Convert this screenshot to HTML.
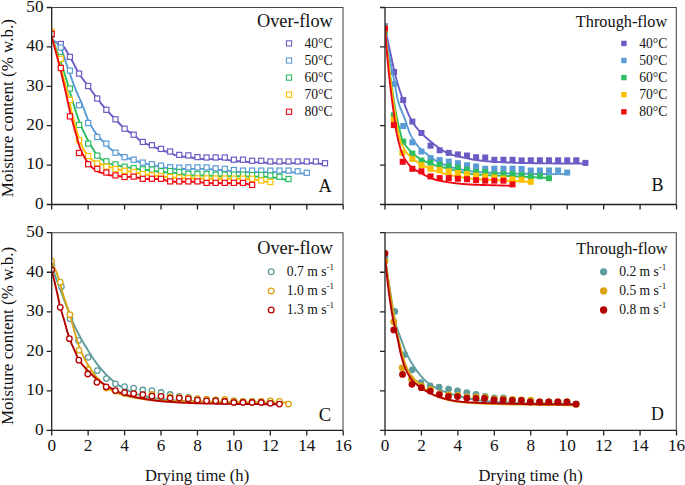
<!DOCTYPE html>
<html><head><meta charset="utf-8"><style>
html,body{margin:0;padding:0;background:#fff;}
body{width:685px;height:485px;overflow:hidden;font-family:"Liberation Serif",serif;}
svg{display:block;}
text{fill:#111;}
</style></head><body>
<svg width="685" height="485" viewBox="0 0 685 485" font-family="Liberation Serif, serif">
<rect width="685" height="485" fill="#fff"/>
<defs>
<clipPath id="clipA"><rect x="51.7" y="0" width="296.3" height="205.5"/></clipPath>
<clipPath id="clipB"><rect x="385" y="0" width="296.3" height="205.5"/></clipPath>
<clipPath id="clipC"><rect x="51.7" y="0" width="296.3" height="431.4"/></clipPath>
<clipPath id="clipD"><rect x="385" y="0" width="296.3" height="431.4"/></clipPath>
</defs>
<g clip-path="url(#clipA)">
<path d="M51.7 41.7 L52.61 41.73 L53.53 41.82 L54.44 41.96 L55.36 42.14 L56.27 42.37 L57.18 42.64 L58.1 42.94 L59.01 43.27 L59.93 43.63 L60.84 44.03 L61.75 44.6 L62.67 45.44 L63.58 46.51 L64.5 47.79 L65.41 49.2 L66.32 50.73 L67.24 52.31 L68.15 53.91 L69.07 55.48 L69.98 57 L70.89 58.55 L71.81 60.18 L72.72 61.89 L73.64 63.65 L74.55 65.44 L75.47 67.22 L76.38 68.96 L77.29 70.64 L78.21 72.24 L79.12 73.72 L80.04 75.11 L80.95 76.44 L81.86 77.71 L82.78 78.95 L83.69 80.16 L84.61 81.35 L85.52 82.54 L86.43 83.73 L87.35 84.94 L88.26 86.17 L89.18 87.43 L90.09 88.69 L91 89.97 L91.92 91.24 L92.83 92.51 L93.75 93.78 L94.66 95.03 L95.57 96.27 L96.49 97.49 L97.4 98.69 L98.32 99.88 L99.23 101.06 L100.14 102.24 L101.06 103.4 L101.97 104.55 L102.89 105.68 L103.8 106.79 L104.71 107.88 L105.63 108.95 L106.54 109.99 L107.46 111.01 L108.37 112 L109.28 112.97 L110.2 113.92 L111.11 114.86 L112.03 115.79 L112.94 116.72 L113.86 117.65 L114.77 118.59 L115.68 119.54 L116.6 120.51 L117.51 121.5 L118.43 122.5 L119.34 123.51 L120.25 124.5 L121.17 125.46 L122.08 126.39 L123 127.27 L123.91 128.09 L124.82 128.85 L125.74 129.58 L126.65 130.25 L127.57 130.89 L128.48 131.5 L129.39 132.09 L130.31 132.68 L131.22 133.28 L132.14 133.89 L133.05 134.54 L133.96 135.23 L134.88 135.96 L135.79 136.74 L136.71 137.55 L137.62 138.37 L138.53 139.19 L139.45 139.97 L140.36 140.71 L141.28 141.39 L142.19 141.99 L143.1 142.52 L144.02 142.98 L144.93 143.39 L145.85 143.76 L146.76 144.11 L147.67 144.45 L148.59 144.78 L149.5 145.11 L150.42 145.44 L151.33 145.8 L152.25 146.17 L153.16 146.55 L154.07 146.95 L154.99 147.36 L155.9 147.78 L156.82 148.19 L157.73 148.6 L158.64 148.99 L159.56 149.37 L160.47 149.73 L161.39 150.06 L162.3 150.38 L163.21 150.68 L164.13 150.97 L165.04 151.25 L165.96 151.53 L166.87 151.8 L167.78 152.09 L168.7 152.38 L169.61 152.7 L170.53 153.05 L171.44 153.42 L172.35 153.82 L173.27 154.24 L174.18 154.66 L175.1 155.07 L176.01 155.45 L176.92 155.79 L177.84 156.07 L178.75 156.3 L179.67 156.46 L180.58 156.56 L181.49 156.64 L182.41 156.69 L183.32 156.74 L184.24 156.78 L185.15 156.82 L186.06 156.87 L186.98 156.94 L187.89 157.02 L188.81 157.12 L189.72 157.25 L190.64 157.4 L191.55 157.58 L192.46 157.77 L193.38 157.96 L194.29 158.15 L195.21 158.32 L196.12 158.47 L197.03 158.59 L197.95 158.69 L198.86 158.77 L199.78 158.84 L200.69 158.9 L201.6 158.94 L202.52 158.99 L203.43 159.02 L204.35 159.05 L205.26 159.07 L206.17 159.08 L207.09 159.09 L208 159.1 L208.92 159.1 L209.83 159.1 L210.74 159.1 L211.66 159.1 L212.57 159.1 L213.49 159.1 L214.4 159.1 L215.31 159.1 L216.23 159.1 L217.14 159.1 L218.06 159.1 L218.97 159.1 L219.88 159.1 L220.8 159.1 L221.71 159.11 L222.63 159.13 L223.54 159.17 L224.45 159.23 L225.37 159.33 L226.28 159.47 L227.2 159.65 L228.11 159.87 L229.03 160.11 L229.94 160.36 L230.85 160.59 L231.77 160.8 L232.68 160.97 L233.6 161.1 L234.51 161.18 L235.42 161.24 L236.34 161.27 L237.25 161.29 L238.17 161.3 L239.08 161.3 L239.99 161.31 L240.91 161.32 L241.82 161.34 L242.74 161.38 L243.65 161.43 L244.56 161.5 L245.48 161.59 L246.39 161.7 L247.31 161.82 L248.22 161.93 L249.13 162.05 L250.05 162.14 L250.96 162.23 L251.88 162.29 L252.79 162.33 L253.7 162.36 L254.62 162.38 L255.53 162.39 L256.45 162.4 L257.36 162.4 L258.27 162.41 L259.19 162.42 L260.1 162.43 L261.02 162.46 L261.93 162.49 L262.84 162.54 L263.76 162.6 L264.67 162.66 L265.59 162.73 L266.5 162.81 L267.42 162.87 L268.33 162.93 L269.24 162.98 L270.16 163.02 L271.07 163.05 L271.99 163.07 L272.9 163.08 L273.81 163.09 L274.73 163.1 L275.64 163.1 L276.56 163.1 L277.47 163.1 L278.38 163.1 L279.3 163.1 L280.21 163.1 L281.13 163.1 L282.04 163.1 L282.95 163.1 L283.87 163.1 L284.78 163.1 L285.7 163.1 L286.61 163.1 L287.52 163.1 L288.44 163.1 L289.35 163.1 L290.27 163.1 L291.18 163.1 L292.09 163.1 L293.01 163.1 L293.92 163.1 L294.84 163.1 L295.75 163.1 L296.66 163.1 L297.58 163.1 L298.49 163.1 L299.41 163.1 L300.32 163.1 L301.23 163.1 L302.15 163.1 L303.06 163.1 L303.98 163.1 L304.89 163.1 L305.81 163.1 L306.72 163.1 L307.63 163.1 L308.55 163.1 L309.46 163.1 L310.38 163.1 L311.29 163.11 L312.2 163.12 L313.12 163.13 L314.03 163.16 L314.95 163.19 L315.86 163.24 L316.77 163.31 L317.69 163.4 L318.6 163.51 L319.52 163.65 L320.43 163.8 L321.34 163.98 L322.26 164.17 L323.17 164.38 L324.09 164.61 L325 164.84" fill="none" stroke="#6A5CC4" stroke-width="1.9" stroke-linejoin="round" stroke-linecap="round"/>
<rect x="49.15" y="31.65" width="5.1" height="5.1" fill="#fff" stroke="#6A5CC4" stroke-width="1.2"/>
<rect x="58.26" y="41.45" width="5.1" height="5.1" fill="#fff" stroke="#6A5CC4" stroke-width="1.2"/>
<rect x="67.37" y="54.35" width="5.1" height="5.1" fill="#fff" stroke="#6A5CC4" stroke-width="1.2"/>
<rect x="76.48" y="71.05" width="5.1" height="5.1" fill="#fff" stroke="#6A5CC4" stroke-width="1.2"/>
<rect x="85.59" y="83.45" width="5.1" height="5.1" fill="#fff" stroke="#6A5CC4" stroke-width="1.2"/>
<rect x="94.7" y="95.95" width="5.1" height="5.1" fill="#fff" stroke="#6A5CC4" stroke-width="1.2"/>
<rect x="103.81" y="107.25" width="5.1" height="5.1" fill="#fff" stroke="#6A5CC4" stroke-width="1.2"/>
<rect x="112.92" y="116.75" width="5.1" height="5.1" fill="#fff" stroke="#6A5CC4" stroke-width="1.2"/>
<rect x="122.03" y="126.15" width="5.1" height="5.1" fill="#fff" stroke="#6A5CC4" stroke-width="1.2"/>
<rect x="131.14" y="132.15" width="5.1" height="5.1" fill="#fff" stroke="#6A5CC4" stroke-width="1.2"/>
<rect x="140.25" y="139.35" width="5.1" height="5.1" fill="#fff" stroke="#6A5CC4" stroke-width="1.2"/>
<rect x="149.36" y="142.65" width="5.1" height="5.1" fill="#fff" stroke="#6A5CC4" stroke-width="1.2"/>
<rect x="158.47" y="146.35" width="5.1" height="5.1" fill="#fff" stroke="#6A5CC4" stroke-width="1.2"/>
<rect x="167.58" y="148.95" width="5.1" height="5.1" fill="#fff" stroke="#6A5CC4" stroke-width="1.2"/>
<rect x="176.69" y="152.35" width="5.1" height="5.1" fill="#fff" stroke="#6A5CC4" stroke-width="1.2"/>
<rect x="185.8" y="152.85" width="5.1" height="5.1" fill="#fff" stroke="#6A5CC4" stroke-width="1.2"/>
<rect x="194.91" y="154.55" width="5.1" height="5.1" fill="#fff" stroke="#6A5CC4" stroke-width="1.2"/>
<rect x="204.02" y="154.95" width="5.1" height="5.1" fill="#fff" stroke="#6A5CC4" stroke-width="1.2"/>
<rect x="213.13" y="154.95" width="5.1" height="5.1" fill="#fff" stroke="#6A5CC4" stroke-width="1.2"/>
<rect x="222.24" y="154.95" width="5.1" height="5.1" fill="#fff" stroke="#6A5CC4" stroke-width="1.2"/>
<rect x="231.35" y="157.15" width="5.1" height="5.1" fill="#fff" stroke="#6A5CC4" stroke-width="1.2"/>
<rect x="240.46" y="157.15" width="5.1" height="5.1" fill="#fff" stroke="#6A5CC4" stroke-width="1.2"/>
<rect x="249.57" y="158.25" width="5.1" height="5.1" fill="#fff" stroke="#6A5CC4" stroke-width="1.2"/>
<rect x="258.68" y="158.25" width="5.1" height="5.1" fill="#fff" stroke="#6A5CC4" stroke-width="1.2"/>
<rect x="267.79" y="158.95" width="5.1" height="5.1" fill="#fff" stroke="#6A5CC4" stroke-width="1.2"/>
<rect x="276.9" y="158.95" width="5.1" height="5.1" fill="#fff" stroke="#6A5CC4" stroke-width="1.2"/>
<rect x="286.01" y="158.95" width="5.1" height="5.1" fill="#fff" stroke="#6A5CC4" stroke-width="1.2"/>
<rect x="295.12" y="158.95" width="5.1" height="5.1" fill="#fff" stroke="#6A5CC4" stroke-width="1.2"/>
<rect x="304.23" y="158.95" width="5.1" height="5.1" fill="#fff" stroke="#6A5CC4" stroke-width="1.2"/>
<rect x="313.34" y="158.95" width="5.1" height="5.1" fill="#fff" stroke="#6A5CC4" stroke-width="1.2"/>
<rect x="322.45" y="160.65" width="5.1" height="5.1" fill="#fff" stroke="#6A5CC4" stroke-width="1.2"/>
<path d="M51.7 40.01 L52.55 40.12 L53.41 40.42 L54.26 40.9 L55.11 41.54 L55.97 42.32 L56.82 43.22 L57.67 44.22 L58.52 45.31 L59.38 46.47 L60.23 47.67 L61.08 48.98 L61.94 50.69 L62.79 52.85 L63.64 55.33 L64.5 57.98 L65.35 60.66 L66.2 63.24 L67.06 65.71 L67.91 68.19 L68.76 70.68 L69.62 73.13 L70.47 75.53 L71.32 77.92 L72.17 80.29 L73.03 82.63 L73.88 84.94 L74.73 87.19 L75.59 89.37 L76.44 91.47 L77.29 93.47 L78.15 95.4 L79 97.28 L79.85 99.15 L80.71 101.05 L81.56 103.01 L82.41 105.08 L83.27 107.26 L84.12 109.53 L84.97 111.84 L85.82 114.14 L86.68 116.39 L87.53 118.53 L88.38 120.51 L89.24 122.33 L90.09 124 L90.94 125.58 L91.8 127.08 L92.65 128.5 L93.5 129.84 L94.36 131.12 L95.21 132.33 L96.06 133.48 L96.91 134.58 L97.77 135.62 L98.62 136.63 L99.47 137.61 L100.33 138.57 L101.18 139.51 L102.03 140.43 L102.89 141.32 L103.74 142.2 L104.59 143.05 L105.45 143.91 L106.3 144.77 L107.15 145.67 L108.01 146.59 L108.86 147.49 L109.71 148.32 L110.56 149.02 L111.42 149.61 L112.27 150.11 L113.12 150.56 L113.98 150.98 L114.83 151.4 L115.68 151.85 L116.54 152.33 L117.39 152.86 L118.24 153.41 L119.1 153.98 L119.95 154.55 L120.8 155.11 L121.66 155.65 L122.51 156.15 L123.36 156.6 L124.21 157 L125.07 157.35 L125.92 157.68 L126.77 157.97 L127.63 158.23 L128.48 158.48 L129.33 158.72 L130.19 158.95 L131.04 159.19 L131.89 159.43 L132.75 159.68 L133.6 159.94 L134.45 160.22 L135.3 160.52 L136.16 160.82 L137.01 161.13 L137.86 161.45 L138.72 161.76 L139.57 162.06 L140.42 162.35 L141.28 162.63 L142.13 162.89 L142.98 163.13 L143.84 163.35 L144.69 163.55 L145.54 163.75 L146.4 163.94 L147.25 164.12 L148.1 164.3 L148.95 164.47 L149.81 164.64 L150.66 164.81 L151.51 164.97 L152.37 165.13 L153.22 165.29 L154.07 165.45 L154.93 165.61 L155.78 165.76 L156.63 165.91 L157.49 166.06 L158.34 166.21 L159.19 166.37 L160.05 166.53 L160.9 166.69 L161.75 166.87 L162.6 167.05 L163.46 167.25 L164.31 167.44 L165.16 167.64 L166.02 167.83 L166.87 168.01 L167.72 168.17 L168.58 168.31 L169.43 168.43 L170.28 168.53 L171.14 168.62 L171.99 168.69 L172.84 168.75 L173.69 168.81 L174.55 168.87 L175.4 168.92 L176.25 168.97 L177.11 169.01 L177.96 169.04 L178.81 169.07 L179.67 169.08 L180.52 169.07 L181.37 169.06 L182.23 169.04 L183.08 169.02 L183.93 169 L184.79 168.97 L185.64 168.95 L186.49 168.93 L187.34 168.92 L188.2 168.91 L189.05 168.91 L189.9 168.9 L190.76 168.9 L191.61 168.9 L192.46 168.9 L193.32 168.9 L194.17 168.9 L195.02 168.9 L195.88 168.9 L196.73 168.9 L197.58 168.9 L198.43 168.9 L199.29 168.9 L200.14 168.9 L200.99 168.9 L201.85 168.9 L202.7 168.9 L203.55 168.9 L204.41 168.91 L205.26 168.92 L206.11 168.93 L206.97 168.96 L207.82 169 L208.67 169.06 L209.53 169.13 L210.38 169.21 L211.23 169.3 L212.08 169.4 L212.94 169.49 L213.79 169.58 L214.64 169.67 L215.5 169.75 L216.35 169.81 L217.2 169.87 L218.06 169.92 L218.91 169.97 L219.76 170.02 L220.62 170.06 L221.47 170.11 L222.32 170.16 L223.18 170.22 L224.03 170.28 L224.88 170.36 L225.73 170.44 L226.59 170.53 L227.44 170.64 L228.29 170.75 L229.15 170.86 L230 170.98 L230.85 171.1 L231.71 171.21 L232.56 171.32 L233.41 171.41 L234.27 171.51 L235.12 171.59 L235.97 171.67 L236.82 171.75 L237.68 171.81 L238.53 171.87 L239.38 171.93 L240.24 171.97 L241.09 172.01 L241.94 172.04 L242.8 172.06 L243.65 172.08 L244.5 172.09 L245.36 172.09 L246.21 172.1 L247.06 172.1 L247.92 172.1 L248.77 172.1 L249.62 172.1 L250.47 172.1 L251.33 172.1 L252.18 172.1 L253.03 172.1 L253.89 172.1 L254.74 172.1 L255.59 172.1 L256.45 172.1 L257.3 172.1 L258.15 172.1 L259.01 172.1 L259.86 172.1 L260.71 172.1 L261.57 172.1 L262.42 172.1 L263.27 172.1 L264.12 172.1 L264.98 172.1 L265.83 172.1 L266.68 172.1 L267.54 172.1 L268.39 172.1 L269.24 172.1 L270.1 172.1 L270.95 172.1 L271.8 172.1 L272.66 172.1 L273.51 172.1 L274.36 172.1 L275.21 172.1 L276.07 172.1 L276.92 172.1 L277.77 172.1 L278.63 172.1 L279.48 172.1 L280.33 172.1 L281.19 172.1 L282.04 172.1 L282.89 172.1 L283.75 172.1 L284.6 172.1 L285.45 172.11 L286.31 172.11 L287.16 172.12 L288.01 172.14 L288.86 172.16 L289.72 172.19 L290.57 172.23 L291.42 172.27 L292.28 172.33 L293.13 172.39 L293.98 172.46 L294.84 172.54 L295.69 172.62 L296.54 172.71 L297.4 172.81 L298.25 172.91 L299.1 173.02 L299.96 173.14 L300.81 173.27 L301.66 173.4 L302.51 173.54 L303.37 173.68 L304.22 173.84 L305.07 173.99 L305.93 174.16 L306.78 174.32" fill="none" stroke="#5B9BD5" stroke-width="1.9" stroke-linejoin="round" stroke-linecap="round"/>
<rect x="49.15" y="31.95" width="5.1" height="5.1" fill="#fff" stroke="#5B9BD5" stroke-width="1.2"/>
<rect x="58.26" y="44.95" width="5.1" height="5.1" fill="#fff" stroke="#5B9BD5" stroke-width="1.2"/>
<rect x="67.37" y="68.05" width="5.1" height="5.1" fill="#fff" stroke="#5B9BD5" stroke-width="1.2"/>
<rect x="76.48" y="102.65" width="5.1" height="5.1" fill="#fff" stroke="#5B9BD5" stroke-width="1.2"/>
<rect x="85.59" y="120.45" width="5.1" height="5.1" fill="#fff" stroke="#5B9BD5" stroke-width="1.2"/>
<rect x="94.7" y="134.45" width="5.1" height="5.1" fill="#fff" stroke="#5B9BD5" stroke-width="1.2"/>
<rect x="103.81" y="141.05" width="5.1" height="5.1" fill="#fff" stroke="#5B9BD5" stroke-width="1.2"/>
<rect x="112.92" y="150.15" width="5.1" height="5.1" fill="#fff" stroke="#5B9BD5" stroke-width="1.2"/>
<rect x="122.03" y="154.65" width="5.1" height="5.1" fill="#fff" stroke="#5B9BD5" stroke-width="1.2"/>
<rect x="131.14" y="157.15" width="5.1" height="5.1" fill="#fff" stroke="#5B9BD5" stroke-width="1.2"/>
<rect x="140.25" y="160.05" width="5.1" height="5.1" fill="#fff" stroke="#5B9BD5" stroke-width="1.2"/>
<rect x="149.36" y="161.75" width="5.1" height="5.1" fill="#fff" stroke="#5B9BD5" stroke-width="1.2"/>
<rect x="158.47" y="163.15" width="5.1" height="5.1" fill="#fff" stroke="#5B9BD5" stroke-width="1.2"/>
<rect x="167.58" y="164.75" width="5.1" height="5.1" fill="#fff" stroke="#5B9BD5" stroke-width="1.2"/>
<rect x="176.69" y="165.05" width="5.1" height="5.1" fill="#fff" stroke="#5B9BD5" stroke-width="1.2"/>
<rect x="185.8" y="164.85" width="5.1" height="5.1" fill="#fff" stroke="#5B9BD5" stroke-width="1.2"/>
<rect x="194.91" y="164.85" width="5.1" height="5.1" fill="#fff" stroke="#5B9BD5" stroke-width="1.2"/>
<rect x="204.02" y="164.85" width="5.1" height="5.1" fill="#fff" stroke="#5B9BD5" stroke-width="1.2"/>
<rect x="213.13" y="165.75" width="5.1" height="5.1" fill="#fff" stroke="#5B9BD5" stroke-width="1.2"/>
<rect x="222.24" y="166.25" width="5.1" height="5.1" fill="#fff" stroke="#5B9BD5" stroke-width="1.2"/>
<rect x="231.35" y="167.45" width="5.1" height="5.1" fill="#fff" stroke="#5B9BD5" stroke-width="1.2"/>
<rect x="240.46" y="168.05" width="5.1" height="5.1" fill="#fff" stroke="#5B9BD5" stroke-width="1.2"/>
<rect x="249.57" y="168.05" width="5.1" height="5.1" fill="#fff" stroke="#5B9BD5" stroke-width="1.2"/>
<rect x="258.68" y="168.05" width="5.1" height="5.1" fill="#fff" stroke="#5B9BD5" stroke-width="1.2"/>
<rect x="267.79" y="168.05" width="5.1" height="5.1" fill="#fff" stroke="#5B9BD5" stroke-width="1.2"/>
<rect x="276.9" y="168.05" width="5.1" height="5.1" fill="#fff" stroke="#5B9BD5" stroke-width="1.2"/>
<rect x="286.01" y="168.05" width="5.1" height="5.1" fill="#fff" stroke="#5B9BD5" stroke-width="1.2"/>
<rect x="295.12" y="168.75" width="5.1" height="5.1" fill="#fff" stroke="#5B9BD5" stroke-width="1.2"/>
<rect x="304.23" y="170.25" width="5.1" height="5.1" fill="#fff" stroke="#5B9BD5" stroke-width="1.2"/>
<path d="M51.7 38 L52.49 39.79 L53.28 41.64 L54.08 43.55 L54.87 45.53 L55.66 47.56 L56.45 49.64 L57.25 51.78 L58.04 53.97 L58.83 56.2 L59.62 58.48 L60.41 60.8 L61.21 63.16 L62 65.56 L62.79 67.99 L63.58 70.45 L64.37 72.94 L65.17 75.46 L65.96 78 L66.75 80.6 L67.54 83.37 L68.34 86.27 L69.13 89.21 L69.92 92.07 L70.71 94.81 L71.5 97.48 L72.3 100.12 L73.09 102.74 L73.88 105.32 L74.67 107.86 L75.47 110.35 L76.26 112.78 L77.05 115.14 L77.84 117.42 L78.63 119.62 L79.43 121.73 L80.22 123.76 L81.01 125.7 L81.8 127.57 L82.59 129.37 L83.39 131.1 L84.18 132.78 L84.97 134.41 L85.76 136 L86.56 137.54 L87.35 139.05 L88.14 140.53 L88.93 141.98 L89.72 143.39 L90.52 144.78 L91.31 146.15 L92.1 147.5 L92.89 148.85 L93.69 150.2 L94.48 151.52 L95.27 152.79 L96.06 153.95 L96.85 154.98 L97.65 155.87 L98.44 156.67 L99.23 157.39 L100.02 158.06 L100.81 158.68 L101.61 159.27 L102.4 159.82 L103.19 160.36 L103.98 160.89 L104.78 161.39 L105.57 161.87 L106.36 162.32 L107.15 162.73 L107.94 163.09 L108.74 163.41 L109.53 163.68 L110.32 163.92 L111.11 164.13 L111.91 164.33 L112.7 164.51 L113.49 164.68 L114.28 164.85 L115.07 165.01 L115.87 165.17 L116.66 165.32 L117.45 165.48 L118.24 165.62 L119.03 165.77 L119.83 165.91 L120.62 166.04 L121.41 166.18 L122.2 166.31 L123 166.44 L123.79 166.57 L124.58 166.7 L125.37 166.85 L126.16 167 L126.96 167.16 L127.75 167.31 L128.54 167.45 L129.33 167.6 L130.13 167.74 L130.92 167.89 L131.71 168.03 L132.5 168.16 L133.29 168.3 L134.09 168.43 L134.88 168.57 L135.67 168.7 L136.46 168.83 L137.25 168.96 L138.05 169.09 L138.84 169.22 L139.63 169.33 L140.42 169.44 L141.22 169.55 L142.01 169.64 L142.8 169.72 L143.59 169.79 L144.38 169.86 L145.18 169.92 L145.97 169.97 L146.76 170.02 L147.55 170.07 L148.35 170.13 L149.14 170.18 L149.93 170.24 L150.72 170.31 L151.51 170.39 L152.31 170.49 L153.1 170.62 L153.89 170.77 L154.68 170.94 L155.47 171.12 L156.27 171.31 L157.06 171.49 L157.85 171.67 L158.64 171.82 L159.44 171.95 L160.23 172.05 L161.02 172.12 L161.81 172.17 L162.6 172.2 L163.4 172.23 L164.19 172.26 L164.98 172.28 L165.77 172.31 L166.57 172.33 L167.36 172.35 L168.15 172.38 L168.94 172.4 L169.73 172.43 L170.53 172.47 L171.32 172.52 L172.11 172.58 L172.9 172.65 L173.69 172.73 L174.49 172.82 L175.28 172.92 L176.07 173.03 L176.86 173.15 L177.66 173.27 L178.45 173.41 L179.24 173.56 L180.03 173.7 L180.82 173.87 L181.62 174.05 L182.41 174.25 L183.2 174.46 L183.99 174.67 L184.79 174.87 L185.58 175.04 L186.37 175.19 L187.16 175.3 L187.95 175.38 L188.75 175.44 L189.54 175.47 L190.33 175.49 L191.12 175.49 L191.91 175.5 L192.71 175.5 L193.5 175.5 L194.29 175.5 L195.08 175.5 L195.88 175.5 L196.67 175.5 L197.46 175.5 L198.25 175.5 L199.04 175.5 L199.84 175.5 L200.63 175.5 L201.42 175.5 L202.21 175.5 L203.01 175.5 L203.8 175.5 L204.59 175.51 L205.38 175.52 L206.17 175.53 L206.97 175.56 L207.76 175.59 L208.55 175.64 L209.34 175.7 L210.13 175.76 L210.93 175.83 L211.72 175.9 L212.51 175.97 L213.3 176.03 L214.1 176.08 L214.89 176.12 L215.68 176.15 L216.47 176.17 L217.26 176.19 L218.06 176.19 L218.85 176.2 L219.64 176.2 L220.43 176.2 L221.23 176.2 L222.02 176.2 L222.81 176.2 L223.6 176.2 L224.39 176.2 L225.19 176.2 L225.98 176.2 L226.77 176.2 L227.56 176.2 L228.35 176.2 L229.15 176.2 L229.94 176.2 L230.73 176.2 L231.52 176.2 L232.32 176.2 L233.11 176.2 L233.9 176.2 L234.69 176.2 L235.48 176.2 L236.28 176.2 L237.07 176.2 L237.86 176.2 L238.65 176.2 L239.45 176.2 L240.24 176.2 L241.03 176.21 L241.82 176.22 L242.61 176.23 L243.41 176.24 L244.2 176.26 L244.99 176.29 L245.78 176.32 L246.57 176.35 L247.37 176.39 L248.16 176.43 L248.95 176.46 L249.74 176.5 L250.54 176.52 L251.33 176.55 L252.12 176.56 L252.91 176.58 L253.7 176.59 L254.5 176.59 L255.29 176.6 L256.08 176.6 L256.87 176.6 L257.67 176.6 L258.46 176.6 L259.25 176.61 L260.04 176.61 L260.83 176.62 L261.63 176.64 L262.42 176.66 L263.21 176.68 L264 176.71 L264.79 176.74 L265.59 176.78 L266.38 176.83 L267.17 176.88 L267.96 176.94 L268.76 177 L269.55 177.07 L270.34 177.14 L271.13 177.22 L271.92 177.3 L272.72 177.4 L273.51 177.49 L274.3 177.6 L275.09 177.71 L275.89 177.83 L276.68 177.96 L277.47 178.09 L278.26 178.23 L279.05 178.37 L279.85 178.52 L280.64 178.68 L281.43 178.84 L282.22 179.02 L283.01 179.19 L283.81 179.38 L284.6 179.57 L285.39 179.77 L286.18 179.98 L286.98 180.19 L287.77 180.4 L288.56 180.62" fill="none" stroke="#2EBE62" stroke-width="1.9" stroke-linejoin="round" stroke-linecap="round"/>
<rect x="49.15" y="30.95" width="5.1" height="5.1" fill="#fff" stroke="#2EBE62" stroke-width="1.2"/>
<rect x="58.26" y="54.45" width="5.1" height="5.1" fill="#fff" stroke="#2EBE62" stroke-width="1.2"/>
<rect x="67.37" y="85.95" width="5.1" height="5.1" fill="#fff" stroke="#2EBE62" stroke-width="1.2"/>
<rect x="76.48" y="122.45" width="5.1" height="5.1" fill="#fff" stroke="#2EBE62" stroke-width="1.2"/>
<rect x="85.59" y="141.05" width="5.1" height="5.1" fill="#fff" stroke="#2EBE62" stroke-width="1.2"/>
<rect x="94.7" y="153.05" width="5.1" height="5.1" fill="#fff" stroke="#2EBE62" stroke-width="1.2"/>
<rect x="103.81" y="158.75" width="5.1" height="5.1" fill="#fff" stroke="#2EBE62" stroke-width="1.2"/>
<rect x="112.92" y="161.85" width="5.1" height="5.1" fill="#fff" stroke="#2EBE62" stroke-width="1.2"/>
<rect x="122.03" y="164.15" width="5.1" height="5.1" fill="#fff" stroke="#2EBE62" stroke-width="1.2"/>
<rect x="131.14" y="165.55" width="5.1" height="5.1" fill="#fff" stroke="#2EBE62" stroke-width="1.2"/>
<rect x="140.25" y="166.65" width="5.1" height="5.1" fill="#fff" stroke="#2EBE62" stroke-width="1.2"/>
<rect x="149.36" y="167.05" width="5.1" height="5.1" fill="#fff" stroke="#2EBE62" stroke-width="1.2"/>
<rect x="158.47" y="168.55" width="5.1" height="5.1" fill="#fff" stroke="#2EBE62" stroke-width="1.2"/>
<rect x="167.58" y="168.55" width="5.1" height="5.1" fill="#fff" stroke="#2EBE62" stroke-width="1.2"/>
<rect x="176.69" y="169.35" width="5.1" height="5.1" fill="#fff" stroke="#2EBE62" stroke-width="1.2"/>
<rect x="185.8" y="171.35" width="5.1" height="5.1" fill="#fff" stroke="#2EBE62" stroke-width="1.2"/>
<rect x="194.91" y="171.35" width="5.1" height="5.1" fill="#fff" stroke="#2EBE62" stroke-width="1.2"/>
<rect x="204.02" y="171.35" width="5.1" height="5.1" fill="#fff" stroke="#2EBE62" stroke-width="1.2"/>
<rect x="213.13" y="172.05" width="5.1" height="5.1" fill="#fff" stroke="#2EBE62" stroke-width="1.2"/>
<rect x="222.24" y="172.05" width="5.1" height="5.1" fill="#fff" stroke="#2EBE62" stroke-width="1.2"/>
<rect x="231.35" y="172.05" width="5.1" height="5.1" fill="#fff" stroke="#2EBE62" stroke-width="1.2"/>
<rect x="240.46" y="172.05" width="5.1" height="5.1" fill="#fff" stroke="#2EBE62" stroke-width="1.2"/>
<rect x="249.57" y="172.45" width="5.1" height="5.1" fill="#fff" stroke="#2EBE62" stroke-width="1.2"/>
<rect x="258.68" y="172.45" width="5.1" height="5.1" fill="#fff" stroke="#2EBE62" stroke-width="1.2"/>
<rect x="267.79" y="172.95" width="5.1" height="5.1" fill="#fff" stroke="#2EBE62" stroke-width="1.2"/>
<rect x="276.9" y="174.25" width="5.1" height="5.1" fill="#fff" stroke="#2EBE62" stroke-width="1.2"/>
<rect x="286.01" y="176.45" width="5.1" height="5.1" fill="#fff" stroke="#2EBE62" stroke-width="1.2"/>
<path d="M51.7 37.2 L52.43 39.47 L53.16 41.77 L53.89 44.11 L54.62 46.48 L55.36 48.89 L56.09 51.33 L56.82 53.8 L57.55 56.3 L58.28 58.82 L59.01 61.37 L59.74 63.95 L60.47 66.55 L61.21 69.17 L61.94 71.81 L62.67 74.47 L63.4 77.16 L64.13 79.88 L64.86 82.64 L65.59 85.46 L66.32 88.33 L67.06 91.27 L67.79 94.29 L68.52 97.45 L69.25 100.77 L69.98 104.18 L70.71 107.57 L71.44 110.85 L72.17 113.92 L72.91 116.79 L73.64 119.51 L74.37 122.16 L75.1 124.79 L75.83 127.46 L76.56 130.13 L77.29 132.75 L78.02 135.26 L78.76 137.59 L79.49 139.72 L80.22 141.72 L80.95 143.62 L81.68 145.41 L82.41 147.07 L83.14 148.61 L83.87 149.99 L84.61 151.23 L85.34 152.34 L86.07 153.36 L86.8 154.3 L87.53 155.19 L88.26 156.04 L88.99 156.86 L89.72 157.65 L90.46 158.4 L91.19 159.09 L91.92 159.71 L92.65 160.26 L93.38 160.76 L94.11 161.21 L94.84 161.63 L95.57 162.01 L96.31 162.35 L97.04 162.67 L97.77 162.96 L98.5 163.22 L99.23 163.47 L99.96 163.69 L100.69 163.92 L101.42 164.13 L102.16 164.36 L102.89 164.59 L103.62 164.83 L104.35 165.07 L105.08 165.32 L105.81 165.58 L106.54 165.84 L107.27 166.09 L108.01 166.35 L108.74 166.6 L109.47 166.84 L110.2 167.08 L110.93 167.31 L111.66 167.54 L112.39 167.77 L113.12 167.98 L113.86 168.2 L114.59 168.41 L115.32 168.61 L116.05 168.8 L116.78 169 L117.51 169.19 L118.24 169.38 L118.97 169.57 L119.71 169.75 L120.44 169.93 L121.17 170.1 L121.9 170.26 L122.63 170.42 L123.36 170.56 L124.09 170.7 L124.82 170.83 L125.55 170.95 L126.29 171.06 L127.02 171.16 L127.75 171.26 L128.48 171.35 L129.21 171.44 L129.94 171.53 L130.67 171.62 L131.4 171.72 L132.14 171.82 L132.87 171.93 L133.6 172.05 L134.33 172.19 L135.06 172.33 L135.79 172.49 L136.52 172.65 L137.25 172.83 L137.99 173 L138.72 173.18 L139.45 173.36 L140.18 173.53 L140.91 173.7 L141.64 173.85 L142.37 174 L143.1 174.14 L143.84 174.27 L144.57 174.4 L145.3 174.52 L146.03 174.63 L146.76 174.74 L147.49 174.85 L148.22 174.96 L148.95 175.06 L149.69 175.16 L150.42 175.26 L151.15 175.35 L151.88 175.44 L152.61 175.53 L153.34 175.61 L154.07 175.7 L154.8 175.78 L155.54 175.85 L156.27 175.93 L157 176 L157.73 176.08 L158.46 176.15 L159.19 176.22 L159.92 176.29 L160.65 176.36 L161.39 176.44 L162.12 176.51 L162.85 176.58 L163.58 176.65 L164.31 176.72 L165.04 176.79 L165.77 176.86 L166.5 176.93 L167.24 177 L167.97 177.06 L168.7 177.13 L169.43 177.19 L170.16 177.25 L170.89 177.31 L171.62 177.36 L172.35 177.42 L173.09 177.47 L173.82 177.53 L174.55 177.58 L175.28 177.63 L176.01 177.68 L176.74 177.73 L177.47 177.78 L178.2 177.83 L178.94 177.88 L179.67 177.93 L180.4 177.97 L181.13 178.02 L181.86 178.06 L182.59 178.11 L183.32 178.15 L184.05 178.19 L184.79 178.23 L185.52 178.27 L186.25 178.31 L186.98 178.34 L187.71 178.37 L188.44 178.39 L189.17 178.42 L189.9 178.44 L190.64 178.46 L191.37 178.48 L192.1 178.5 L192.83 178.51 L193.56 178.53 L194.29 178.54 L195.02 178.56 L195.75 178.57 L196.49 178.58 L197.22 178.59 L197.95 178.6 L198.68 178.61 L199.41 178.62 L200.14 178.63 L200.87 178.64 L201.6 178.65 L202.33 178.66 L203.07 178.66 L203.8 178.67 L204.53 178.68 L205.26 178.69 L205.99 178.7 L206.72 178.7 L207.45 178.71 L208.18 178.72 L208.92 178.73 L209.65 178.74 L210.38 178.75 L211.11 178.76 L211.84 178.77 L212.57 178.78 L213.3 178.78 L214.03 178.79 L214.77 178.79 L215.5 178.79 L216.23 178.8 L216.96 178.8 L217.69 178.8 L218.42 178.8 L219.15 178.8 L219.88 178.8 L220.62 178.8 L221.35 178.8 L222.08 178.8 L222.81 178.8 L223.54 178.8 L224.27 178.81 L225 178.81 L225.73 178.81 L226.47 178.82 L227.2 178.83 L227.93 178.83 L228.66 178.84 L229.39 178.85 L230.12 178.86 L230.85 178.87 L231.58 178.88 L232.32 178.88 L233.05 178.89 L233.78 178.89 L234.51 178.89 L235.24 178.9 L235.97 178.9 L236.7 178.9 L237.43 178.9 L238.17 178.9 L238.9 178.9 L239.63 178.9 L240.36 178.9 L241.09 178.9 L241.82 178.9 L242.55 178.9 L243.28 178.9 L244.02 178.91 L244.75 178.91 L245.48 178.92 L246.21 178.92 L246.94 178.93 L247.67 178.94 L248.4 178.95 L249.13 178.97 L249.87 178.99 L250.6 179.02 L251.33 179.06 L252.06 179.11 L252.79 179.17 L253.52 179.26 L254.25 179.35 L254.98 179.47 L255.72 179.6 L256.45 179.74 L257.18 179.89 L257.91 180.04 L258.64 180.2 L259.37 180.36 L260.1 180.51 L260.83 180.66 L261.57 180.81 L262.3 180.95 L263.03 181.09 L263.76 181.22 L264.49 181.35 L265.22 181.48 L265.95 181.6 L266.68 181.72 L267.42 181.84 L268.15 181.95 L268.88 182.07 L269.61 182.18 L270.34 182.29" fill="none" stroke="#FFC000" stroke-width="1.9" stroke-linejoin="round" stroke-linecap="round"/>
<rect x="49.15" y="29.25" width="5.1" height="5.1" fill="#fff" stroke="#FFC000" stroke-width="1.2"/>
<rect x="58.26" y="56.35" width="5.1" height="5.1" fill="#fff" stroke="#FFC000" stroke-width="1.2"/>
<rect x="67.37" y="97.35" width="5.1" height="5.1" fill="#fff" stroke="#FFC000" stroke-width="1.2"/>
<rect x="76.48" y="137.75" width="5.1" height="5.1" fill="#fff" stroke="#FFC000" stroke-width="1.2"/>
<rect x="85.59" y="153.45" width="5.1" height="5.1" fill="#fff" stroke="#FFC000" stroke-width="1.2"/>
<rect x="94.7" y="160.85" width="5.1" height="5.1" fill="#fff" stroke="#FFC000" stroke-width="1.2"/>
<rect x="103.81" y="164.15" width="5.1" height="5.1" fill="#fff" stroke="#FFC000" stroke-width="1.2"/>
<rect x="112.92" y="166.45" width="5.1" height="5.1" fill="#fff" stroke="#FFC000" stroke-width="1.2"/>
<rect x="122.03" y="168.25" width="5.1" height="5.1" fill="#fff" stroke="#FFC000" stroke-width="1.2"/>
<rect x="131.14" y="169.45" width="5.1" height="5.1" fill="#fff" stroke="#FFC000" stroke-width="1.2"/>
<rect x="140.25" y="171.45" width="5.1" height="5.1" fill="#fff" stroke="#FFC000" stroke-width="1.2"/>
<rect x="149.36" y="172.75" width="5.1" height="5.1" fill="#fff" stroke="#FFC000" stroke-width="1.2"/>
<rect x="158.47" y="173.65" width="5.1" height="5.1" fill="#fff" stroke="#FFC000" stroke-width="1.2"/>
<rect x="167.58" y="174.45" width="5.1" height="5.1" fill="#fff" stroke="#FFC000" stroke-width="1.2"/>
<rect x="176.69" y="175.05" width="5.1" height="5.1" fill="#fff" stroke="#FFC000" stroke-width="1.2"/>
<rect x="185.8" y="175.55" width="5.1" height="5.1" fill="#fff" stroke="#FFC000" stroke-width="1.2"/>
<rect x="194.91" y="175.75" width="5.1" height="5.1" fill="#fff" stroke="#FFC000" stroke-width="1.2"/>
<rect x="204.02" y="175.85" width="5.1" height="5.1" fill="#fff" stroke="#FFC000" stroke-width="1.2"/>
<rect x="213.13" y="175.95" width="5.1" height="5.1" fill="#fff" stroke="#FFC000" stroke-width="1.2"/>
<rect x="222.24" y="175.95" width="5.1" height="5.1" fill="#fff" stroke="#FFC000" stroke-width="1.2"/>
<rect x="231.35" y="176.05" width="5.1" height="5.1" fill="#fff" stroke="#FFC000" stroke-width="1.2"/>
<rect x="240.46" y="176.05" width="5.1" height="5.1" fill="#fff" stroke="#FFC000" stroke-width="1.2"/>
<rect x="249.57" y="176.15" width="5.1" height="5.1" fill="#fff" stroke="#FFC000" stroke-width="1.2"/>
<rect x="258.68" y="177.95" width="5.1" height="5.1" fill="#fff" stroke="#FFC000" stroke-width="1.2"/>
<rect x="267.79" y="179.45" width="5.1" height="5.1" fill="#fff" stroke="#FFC000" stroke-width="1.2"/>
<path d="M51.7 36.8 L52.37 39.2 L53.04 41.62 L53.71 44.06 L54.38 46.53 L55.05 49.02 L55.72 51.53 L56.39 54.06 L57.06 56.61 L57.73 59.18 L58.4 61.76 L59.07 64.37 L59.74 67.01 L60.41 69.68 L61.08 72.39 L61.75 75.15 L62.42 77.96 L63.1 80.82 L63.77 83.73 L64.44 86.66 L65.11 89.62 L65.78 92.59 L66.45 95.58 L67.12 98.62 L67.79 101.72 L68.46 104.82 L69.13 107.88 L69.8 110.84 L70.47 113.67 L71.14 116.37 L71.81 118.98 L72.48 121.51 L73.15 123.99 L73.82 126.42 L74.49 128.82 L75.16 131.19 L75.83 133.56 L76.5 135.95 L77.17 138.37 L77.84 140.8 L78.51 143.14 L79.18 145.32 L79.85 147.27 L80.52 149.02 L81.19 150.64 L81.86 152.16 L82.53 153.6 L83.2 154.95 L83.87 156.23 L84.54 157.44 L85.22 158.58 L85.89 159.67 L86.56 160.7 L87.23 161.69 L87.9 162.64 L88.57 163.54 L89.24 164.4 L89.91 165.2 L90.58 165.96 L91.25 166.65 L91.92 167.3 L92.59 167.91 L93.26 168.48 L93.93 169.03 L94.6 169.54 L95.27 170.02 L95.94 170.45 L96.61 170.85 L97.28 171.2 L97.95 171.51 L98.62 171.8 L99.29 172.06 L99.96 172.31 L100.63 172.54 L101.3 172.76 L101.97 172.96 L102.64 173.16 L103.31 173.35 L103.98 173.54 L104.65 173.74 L105.32 173.93 L105.99 174.13 L106.66 174.34 L107.33 174.55 L108.01 174.76 L108.68 174.96 L109.35 175.13 L110.02 175.29 L110.69 175.41 L111.36 175.5 L112.03 175.54 L112.7 175.55 L113.37 175.53 L114.04 175.49 L114.71 175.46 L115.38 175.45 L116.05 175.47 L116.72 175.53 L117.39 175.62 L118.06 175.74 L118.73 175.89 L119.4 176.05 L120.07 176.21 L120.74 176.38 L121.41 176.53 L122.08 176.67 L122.75 176.79 L123.42 176.88 L124.09 176.94 L124.76 176.97 L125.43 176.97 L126.1 176.97 L126.77 176.95 L127.44 176.92 L128.11 176.89 L128.78 176.85 L129.45 176.82 L130.13 176.78 L130.8 176.75 L131.47 176.72 L132.14 176.7 L132.81 176.7 L133.48 176.72 L134.15 176.77 L134.82 176.85 L135.49 176.98 L136.16 177.14 L136.83 177.33 L137.5 177.55 L138.17 177.77 L138.84 178 L139.51 178.22 L140.18 178.41 L140.85 178.58 L141.52 178.72 L142.19 178.81 L142.86 178.88 L143.53 178.91 L144.2 178.93 L144.87 178.95 L145.54 178.95 L146.21 178.96 L146.88 178.96 L147.55 178.97 L148.22 178.97 L148.89 178.98 L149.56 178.98 L150.23 178.99 L150.9 178.99 L151.57 179 L152.25 179 L152.92 179.01 L153.59 179.01 L154.26 179.02 L154.93 179.02 L155.6 179.03 L156.27 179.03 L156.94 179.04 L157.61 179.04 L158.28 179.05 L158.95 179.06 L159.62 179.08 L160.29 179.11 L160.96 179.16 L161.63 179.24 L162.3 179.36 L162.97 179.51 L163.64 179.71 L164.31 179.93 L164.98 180.18 L165.65 180.43 L166.32 180.68 L166.99 180.92 L167.66 181.13 L168.33 181.32 L169 181.46 L169.67 181.57 L170.34 181.65 L171.01 181.69 L171.68 181.72 L172.35 181.74 L173.02 181.75 L173.69 181.76 L174.37 181.76 L175.04 181.77 L175.71 181.77 L176.38 181.78 L177.05 181.78 L177.72 181.79 L178.39 181.79 L179.06 181.8 L179.73 181.8 L180.4 181.8 L181.07 181.8 L181.74 181.8 L182.41 181.8 L183.08 181.8 L183.75 181.8 L184.42 181.8 L185.09 181.8 L185.76 181.8 L186.43 181.8 L187.1 181.8 L187.77 181.8 L188.44 181.8 L189.11 181.8 L189.78 181.8 L190.45 181.8 L191.12 181.8 L191.79 181.8 L192.46 181.8 L193.13 181.8 L193.8 181.8 L194.47 181.8 L195.14 181.81 L195.81 181.82 L196.49 181.84 L197.16 181.87 L197.83 181.91 L198.5 181.97 L199.17 182.05 L199.84 182.15 L200.51 182.26 L201.18 182.39 L201.85 182.52 L202.52 182.65 L203.19 182.78 L203.86 182.89 L204.53 183 L205.2 183.08 L205.87 183.15 L206.54 183.21 L207.21 183.24 L207.88 183.27 L208.55 183.28 L209.22 183.29 L209.89 183.3 L210.56 183.3 L211.23 183.3 L211.9 183.3 L212.57 183.3 L213.24 183.3 L213.91 183.3 L214.58 183.3 L215.25 183.3 L215.92 183.3 L216.59 183.3 L217.26 183.3 L217.93 183.3 L218.6 183.3 L219.28 183.3 L219.95 183.3 L220.62 183.3 L221.29 183.3 L221.96 183.3 L222.63 183.3 L223.3 183.3 L223.97 183.3 L224.64 183.3 L225.31 183.3 L225.98 183.3 L226.65 183.3 L227.32 183.3 L227.99 183.3 L228.66 183.3 L229.33 183.3 L230 183.3 L230.67 183.3 L231.34 183.3 L232.01 183.3 L232.68 183.3 L233.35 183.3 L234.02 183.3 L234.69 183.3 L235.36 183.3 L236.03 183.3 L236.7 183.3 L237.37 183.3 L238.04 183.3 L238.71 183.3 L239.38 183.31 L240.05 183.31 L240.72 183.32 L241.4 183.33 L242.07 183.35 L242.74 183.39 L243.41 183.43 L244.08 183.48 L244.75 183.56 L245.42 183.65 L246.09 183.75 L246.76 183.88 L247.43 184.02 L248.1 184.17 L248.77 184.34 L249.44 184.52 L250.11 184.71 L250.78 184.91 L251.45 185.11 L252.12 185.32" fill="none" stroke="#EE0A14" stroke-width="1.9" stroke-linejoin="round" stroke-linecap="round"/>
<rect x="49.15" y="31.35" width="5.1" height="5.1" fill="#fff" stroke="#EE0A14" stroke-width="1.2"/>
<rect x="58.26" y="65.45" width="5.1" height="5.1" fill="#fff" stroke="#EE0A14" stroke-width="1.2"/>
<rect x="67.37" y="113.85" width="5.1" height="5.1" fill="#fff" stroke="#EE0A14" stroke-width="1.2"/>
<rect x="76.48" y="150.45" width="5.1" height="5.1" fill="#fff" stroke="#EE0A14" stroke-width="1.2"/>
<rect x="85.59" y="161.65" width="5.1" height="5.1" fill="#fff" stroke="#EE0A14" stroke-width="1.2"/>
<rect x="94.7" y="166.25" width="5.1" height="5.1" fill="#fff" stroke="#EE0A14" stroke-width="1.2"/>
<rect x="103.81" y="169.95" width="5.1" height="5.1" fill="#fff" stroke="#EE0A14" stroke-width="1.2"/>
<rect x="112.92" y="172.85" width="5.1" height="5.1" fill="#fff" stroke="#EE0A14" stroke-width="1.2"/>
<rect x="122.03" y="174.45" width="5.1" height="5.1" fill="#fff" stroke="#EE0A14" stroke-width="1.2"/>
<rect x="131.14" y="174.05" width="5.1" height="5.1" fill="#fff" stroke="#EE0A14" stroke-width="1.2"/>
<rect x="140.25" y="176.25" width="5.1" height="5.1" fill="#fff" stroke="#EE0A14" stroke-width="1.2"/>
<rect x="149.36" y="176.25" width="5.1" height="5.1" fill="#fff" stroke="#EE0A14" stroke-width="1.2"/>
<rect x="158.47" y="176.25" width="5.1" height="5.1" fill="#fff" stroke="#EE0A14" stroke-width="1.2"/>
<rect x="167.58" y="178.85" width="5.1" height="5.1" fill="#fff" stroke="#EE0A14" stroke-width="1.2"/>
<rect x="176.69" y="178.85" width="5.1" height="5.1" fill="#fff" stroke="#EE0A14" stroke-width="1.2"/>
<rect x="185.8" y="178.85" width="5.1" height="5.1" fill="#fff" stroke="#EE0A14" stroke-width="1.2"/>
<rect x="194.91" y="178.85" width="5.1" height="5.1" fill="#fff" stroke="#EE0A14" stroke-width="1.2"/>
<rect x="204.02" y="180.35" width="5.1" height="5.1" fill="#fff" stroke="#EE0A14" stroke-width="1.2"/>
<rect x="213.13" y="180.35" width="5.1" height="5.1" fill="#fff" stroke="#EE0A14" stroke-width="1.2"/>
<rect x="222.24" y="180.35" width="5.1" height="5.1" fill="#fff" stroke="#EE0A14" stroke-width="1.2"/>
<rect x="231.35" y="180.35" width="5.1" height="5.1" fill="#fff" stroke="#EE0A14" stroke-width="1.2"/>
<rect x="240.46" y="180.35" width="5.1" height="5.1" fill="#fff" stroke="#EE0A14" stroke-width="1.2"/>
<rect x="249.57" y="182.35" width="5.1" height="5.1" fill="#fff" stroke="#EE0A14" stroke-width="1.2"/>
</g>
<g clip-path="url(#clipB)">
<path d="M385 28 L385.67 31.06 L386.34 34.14 L387.01 37.22 L387.68 40.3 L388.35 43.4 L389.02 46.5 L389.69 49.61 L390.36 52.73 L391.03 55.85 L391.7 59.01 L392.37 62.2 L393.04 65.37 L393.71 68.45 L394.38 71.37 L395.05 74.11 L395.72 76.71 L396.4 79.2 L397.07 81.6 L397.74 83.92 L398.41 86.16 L399.08 88.34 L399.75 90.45 L400.42 92.52 L401.09 94.53 L401.76 96.49 L402.43 98.42 L403.1 100.32 L403.77 102.19 L404.44 104.03 L405.11 105.83 L405.78 107.6 L406.45 109.32 L407.12 111 L407.79 112.61 L408.46 114.17 L409.13 115.65 L409.8 117.06 L410.47 118.39 L411.14 119.65 L411.81 120.84 L412.48 121.96 L413.15 123.02 L413.82 124.03 L414.49 124.99 L415.16 125.91 L415.83 126.8 L416.5 127.65 L417.17 128.47 L417.84 129.26 L418.52 130.04 L419.19 130.8 L419.86 131.53 L420.53 132.25 L421.2 132.95 L421.87 133.64 L422.54 134.31 L423.21 134.97 L423.88 135.61 L424.55 136.24 L425.22 136.86 L425.89 137.47 L426.56 138.07 L427.23 138.66 L427.9 139.24 L428.57 139.81 L429.24 140.38 L429.91 140.94 L430.58 141.49 L431.25 142.04 L431.92 142.59 L432.59 143.13 L433.26 143.66 L433.93 144.19 L434.6 144.72 L435.27 145.25 L435.94 145.76 L436.61 146.28 L437.28 146.78 L437.95 147.28 L438.62 147.78 L439.29 148.26 L439.96 148.73 L440.63 149.18 L441.31 149.63 L441.98 150.06 L442.65 150.47 L443.32 150.87 L443.99 151.26 L444.66 151.63 L445.33 151.98 L446 152.32 L446.67 152.64 L447.34 152.94 L448.01 153.24 L448.68 153.52 L449.35 153.79 L450.02 154.04 L450.69 154.29 L451.36 154.52 L452.03 154.74 L452.7 154.96 L453.37 155.16 L454.04 155.36 L454.71 155.55 L455.38 155.73 L456.05 155.9 L456.72 156.07 L457.39 156.23 L458.06 156.39 L458.73 156.55 L459.4 156.7 L460.07 156.85 L460.74 157 L461.41 157.14 L462.08 157.29 L462.75 157.43 L463.43 157.57 L464.1 157.72 L464.77 157.86 L465.44 158 L466.11 158.14 L466.78 158.28 L467.45 158.42 L468.12 158.55 L468.79 158.69 L469.46 158.82 L470.13 158.96 L470.8 159.09 L471.47 159.21 L472.14 159.34 L472.81 159.46 L473.48 159.57 L474.15 159.69 L474.82 159.8 L475.49 159.91 L476.16 160.01 L476.83 160.11 L477.5 160.2 L478.17 160.3 L478.84 160.39 L479.51 160.47 L480.18 160.56 L480.85 160.64 L481.52 160.72 L482.19 160.79 L482.86 160.86 L483.53 160.93 L484.2 161 L484.87 161.07 L485.55 161.13 L486.22 161.19 L486.89 161.25 L487.56 161.31 L488.23 161.37 L488.9 161.42 L489.57 161.47 L490.24 161.53 L490.91 161.58 L491.58 161.62 L492.25 161.67 L492.92 161.72 L493.59 161.76 L494.26 161.81 L494.93 161.85 L495.6 161.89 L496.27 161.93 L496.94 161.97 L497.61 162.01 L498.28 162.05 L498.95 162.09 L499.62 162.13 L500.29 162.16 L500.96 162.2 L501.63 162.23 L502.3 162.27 L502.97 162.3 L503.64 162.33 L504.31 162.37 L504.98 162.4 L505.65 162.43 L506.32 162.46 L506.99 162.49 L507.67 162.51 L508.34 162.54 L509.01 162.57 L509.68 162.6 L510.35 162.62 L511.02 162.65 L511.69 162.67 L512.36 162.7 L513.03 162.72 L513.7 162.74 L514.37 162.77 L515.04 162.79 L515.71 162.81 L516.38 162.83 L517.05 162.85 L517.72 162.87 L518.39 162.89 L519.06 162.91 L519.73 162.92 L520.4 162.94 L521.07 162.96 L521.74 162.98 L522.41 162.99 L523.08 163.01 L523.75 163.02 L524.42 163.04 L525.09 163.05 L525.76 163.06 L526.43 163.08 L527.1 163.09 L527.77 163.1 L528.44 163.11 L529.11 163.13 L529.79 163.14 L530.46 163.15 L531.13 163.16 L531.8 163.17 L532.47 163.18 L533.14 163.19 L533.81 163.2 L534.48 163.21 L535.15 163.22 L535.82 163.23 L536.49 163.24 L537.16 163.25 L537.83 163.26 L538.5 163.27 L539.17 163.28 L539.84 163.28 L540.51 163.29 L541.18 163.3 L541.85 163.31 L542.52 163.32 L543.19 163.32 L543.86 163.33 L544.53 163.34 L545.2 163.35 L545.87 163.35 L546.54 163.36 L547.21 163.37 L547.88 163.38 L548.55 163.38 L549.22 163.39 L549.89 163.4 L550.56 163.4 L551.23 163.41 L551.9 163.41 L552.58 163.42 L553.25 163.43 L553.92 163.43 L554.59 163.44 L555.26 163.44 L555.93 163.45 L556.6 163.45 L557.27 163.46 L557.94 163.46 L558.61 163.47 L559.28 163.47 L559.95 163.48 L560.62 163.48 L561.29 163.49 L561.96 163.49 L562.63 163.5 L563.3 163.5 L563.97 163.51 L564.64 163.51 L565.31 163.51 L565.98 163.52 L566.65 163.52 L567.32 163.53 L567.99 163.53 L568.66 163.53 L569.33 163.53 L570 163.54 L570.67 163.54 L571.34 163.54 L572.01 163.55 L572.68 163.55 L573.35 163.55 L574.02 163.55 L574.7 163.56 L575.37 163.56 L576.04 163.56 L576.71 163.56 L577.38 163.56 L578.05 163.57 L578.72 163.57 L579.39 163.57 L580.06 163.57 L580.73 163.57 L581.4 163.57 L582.07 163.58 L582.74 163.58 L583.41 163.58 L584.08 163.58 L584.75 163.58 L585.42 163.58" fill="none" stroke="#6A5CC4" stroke-width="1.9" stroke-linejoin="round" stroke-linecap="round"/>
<rect x="382" y="23.3" width="6" height="6" fill="#6A5CC4"/>
<rect x="391.11" y="69" width="6" height="6" fill="#6A5CC4"/>
<rect x="400.22" y="97" width="6" height="6" fill="#6A5CC4"/>
<rect x="409.33" y="118.6" width="6" height="6" fill="#6A5CC4"/>
<rect x="418.44" y="130" width="6" height="6" fill="#6A5CC4"/>
<rect x="427.55" y="142.7" width="6" height="6" fill="#6A5CC4"/>
<rect x="436.66" y="147.3" width="6" height="6" fill="#6A5CC4"/>
<rect x="445.77" y="149.9" width="6" height="6" fill="#6A5CC4"/>
<rect x="454.88" y="151.4" width="6" height="6" fill="#6A5CC4"/>
<rect x="463.99" y="152.5" width="6" height="6" fill="#6A5CC4"/>
<rect x="473.1" y="154.2" width="6" height="6" fill="#6A5CC4"/>
<rect x="482.21" y="154.5" width="6" height="6" fill="#6A5CC4"/>
<rect x="491.32" y="156.8" width="6" height="6" fill="#6A5CC4"/>
<rect x="500.43" y="156.8" width="6" height="6" fill="#6A5CC4"/>
<rect x="509.54" y="156.8" width="6" height="6" fill="#6A5CC4"/>
<rect x="518.65" y="157.4" width="6" height="6" fill="#6A5CC4"/>
<rect x="527.76" y="157.3" width="6" height="6" fill="#6A5CC4"/>
<rect x="536.87" y="157.3" width="6" height="6" fill="#6A5CC4"/>
<rect x="545.98" y="157.3" width="6" height="6" fill="#6A5CC4"/>
<rect x="555.09" y="157.3" width="6" height="6" fill="#6A5CC4"/>
<rect x="564.2" y="157.3" width="6" height="6" fill="#6A5CC4"/>
<rect x="573.31" y="157.3" width="6" height="6" fill="#6A5CC4"/>
<rect x="582.42" y="159.9" width="6" height="6" fill="#6A5CC4"/>
<path d="M385 29.99 L385.61 34.03 L386.22 37.99 L386.83 41.86 L387.44 45.63 L388.05 49.3 L388.66 52.87 L389.27 56.33 L389.87 59.66 L390.48 62.84 L391.09 65.89 L391.7 68.83 L392.31 71.72 L392.92 74.62 L393.53 77.59 L394.14 80.71 L394.75 84 L395.36 87.44 L395.97 90.88 L396.58 94.16 L397.19 97.15 L397.8 99.79 L398.41 102.11 L399.02 104.15 L399.62 105.98 L400.23 107.65 L400.84 109.2 L401.45 110.68 L402.06 112.12 L402.67 113.56 L403.28 115.01 L403.89 116.52 L404.5 118.1 L405.11 119.77 L405.72 121.52 L406.33 123.33 L406.94 125.17 L407.55 127 L408.16 128.79 L408.77 130.49 L409.37 132.08 L409.98 133.55 L410.59 134.9 L411.2 136.15 L411.81 137.29 L412.42 138.36 L413.03 139.37 L413.64 140.33 L414.25 141.24 L414.86 142.12 L415.47 142.96 L416.08 143.77 L416.69 144.55 L417.3 145.31 L417.91 146.03 L418.52 146.72 L419.12 147.38 L419.73 148.02 L420.34 148.63 L420.95 149.22 L421.56 149.79 L422.17 150.33 L422.78 150.86 L423.39 151.37 L424 151.87 L424.61 152.37 L425.22 152.85 L425.83 153.33 L426.44 153.81 L427.05 154.29 L427.66 154.76 L428.26 155.24 L428.87 155.71 L429.48 156.19 L430.09 156.65 L430.7 157.12 L431.31 157.57 L431.92 158.02 L432.53 158.46 L433.14 158.89 L433.75 159.3 L434.36 159.71 L434.97 160.1 L435.58 160.48 L436.19 160.85 L436.8 161.2 L437.41 161.54 L438.01 161.87 L438.62 162.19 L439.23 162.5 L439.84 162.8 L440.45 163.1 L441.06 163.38 L441.67 163.65 L442.28 163.92 L442.89 164.18 L443.5 164.43 L444.11 164.67 L444.72 164.91 L445.33 165.14 L445.94 165.37 L446.55 165.59 L447.16 165.8 L447.76 166.01 L448.37 166.22 L448.98 166.41 L449.59 166.61 L450.2 166.8 L450.81 166.98 L451.42 167.16 L452.03 167.33 L452.64 167.5 L453.25 167.66 L453.86 167.82 L454.47 167.98 L455.08 168.13 L455.69 168.28 L456.3 168.43 L456.91 168.57 L457.51 168.7 L458.12 168.84 L458.73 168.97 L459.34 169.1 L459.95 169.23 L460.56 169.36 L461.17 169.48 L461.78 169.6 L462.39 169.72 L463 169.84 L463.61 169.96 L464.22 170.07 L464.83 170.19 L465.44 170.3 L466.05 170.41 L466.65 170.52 L467.26 170.62 L467.87 170.73 L468.48 170.83 L469.09 170.93 L469.7 171.02 L470.31 171.12 L470.92 171.21 L471.53 171.3 L472.14 171.38 L472.75 171.46 L473.36 171.54 L473.97 171.62 L474.58 171.69 L475.19 171.76 L475.8 171.82 L476.4 171.89 L477.01 171.95 L477.62 172 L478.23 172.06 L478.84 172.11 L479.45 172.16 L480.06 172.21 L480.67 172.25 L481.28 172.3 L481.89 172.34 L482.5 172.38 L483.11 172.42 L483.72 172.45 L484.33 172.49 L484.94 172.52 L485.55 172.56 L486.15 172.59 L486.76 172.62 L487.37 172.65 L487.98 172.68 L488.59 172.71 L489.2 172.73 L489.81 172.76 L490.42 172.79 L491.03 172.81 L491.64 172.84 L492.25 172.86 L492.86 172.89 L493.47 172.91 L494.08 172.94 L494.69 172.96 L495.29 172.98 L495.9 173 L496.51 173.03 L497.12 173.05 L497.73 173.07 L498.34 173.09 L498.95 173.11 L499.56 173.13 L500.17 173.15 L500.78 173.17 L501.39 173.19 L502 173.21 L502.61 173.23 L503.22 173.25 L503.83 173.27 L504.44 173.29 L505.04 173.31 L505.65 173.33 L506.26 173.34 L506.87 173.36 L507.48 173.38 L508.09 173.4 L508.7 173.41 L509.31 173.43 L509.92 173.45 L510.53 173.46 L511.14 173.48 L511.75 173.5 L512.36 173.51 L512.97 173.53 L513.58 173.54 L514.19 173.56 L514.79 173.57 L515.4 173.58 L516.01 173.6 L516.62 173.61 L517.23 173.62 L517.84 173.64 L518.45 173.65 L519.06 173.66 L519.67 173.68 L520.28 173.69 L520.89 173.7 L521.5 173.71 L522.11 173.72 L522.72 173.73 L523.33 173.75 L523.94 173.76 L524.54 173.77 L525.15 173.78 L525.76 173.79 L526.37 173.8 L526.98 173.81 L527.59 173.82 L528.2 173.83 L528.81 173.84 L529.42 173.85 L530.03 173.86 L530.64 173.86 L531.25 173.87 L531.86 173.88 L532.47 173.89 L533.08 173.9 L533.68 173.91 L534.29 173.92 L534.9 173.92 L535.51 173.93 L536.12 173.94 L536.73 173.95 L537.34 173.96 L537.95 173.96 L538.56 173.97 L539.17 173.98 L539.78 173.99 L540.39 173.99 L541 174 L541.61 174.01 L542.22 174.01 L542.83 174.02 L543.43 174.03 L544.04 174.03 L544.65 174.04 L545.26 174.05 L545.87 174.05 L546.48 174.06 L547.09 174.06 L547.7 174.07 L548.31 174.07 L548.92 174.08 L549.53 174.08 L550.14 174.09 L550.75 174.09 L551.36 174.1 L551.97 174.1 L552.58 174.11 L553.18 174.11 L553.79 174.12 L554.4 174.12 L555.01 174.12 L555.62 174.13 L556.23 174.13 L556.84 174.13 L557.45 174.14 L558.06 174.14 L558.67 174.14 L559.28 174.15 L559.89 174.15 L560.5 174.15 L561.11 174.15 L561.72 174.16 L562.33 174.16 L562.93 174.16 L563.54 174.16 L564.15 174.17 L564.76 174.17 L565.37 174.17 L565.98 174.17 L566.59 174.17 L567.2 174.17" fill="none" stroke="#5B9BD5" stroke-width="1.9" stroke-linejoin="round" stroke-linecap="round"/>
<rect x="382" y="24" width="6" height="6" fill="#5B9BD5"/>
<rect x="391.11" y="80.9" width="6" height="6" fill="#5B9BD5"/>
<rect x="400.22" y="123" width="6" height="6" fill="#5B9BD5"/>
<rect x="409.33" y="139.4" width="6" height="6" fill="#5B9BD5"/>
<rect x="418.44" y="148.5" width="6" height="6" fill="#5B9BD5"/>
<rect x="427.55" y="155.1" width="6" height="6" fill="#5B9BD5"/>
<rect x="436.66" y="157.1" width="6" height="6" fill="#5B9BD5"/>
<rect x="445.77" y="158.6" width="6" height="6" fill="#5B9BD5"/>
<rect x="454.88" y="160.2" width="6" height="6" fill="#5B9BD5"/>
<rect x="463.99" y="162.3" width="6" height="6" fill="#5B9BD5"/>
<rect x="473.1" y="163.5" width="6" height="6" fill="#5B9BD5"/>
<rect x="482.21" y="165.7" width="6" height="6" fill="#5B9BD5"/>
<rect x="491.32" y="165.7" width="6" height="6" fill="#5B9BD5"/>
<rect x="500.43" y="165.7" width="6" height="6" fill="#5B9BD5"/>
<rect x="509.54" y="165.7" width="6" height="6" fill="#5B9BD5"/>
<rect x="518.65" y="166" width="6" height="6" fill="#5B9BD5"/>
<rect x="527.76" y="167.5" width="6" height="6" fill="#5B9BD5"/>
<rect x="536.87" y="167.5" width="6" height="6" fill="#5B9BD5"/>
<rect x="545.98" y="167.5" width="6" height="6" fill="#5B9BD5"/>
<rect x="555.09" y="167.5" width="6" height="6" fill="#5B9BD5"/>
<rect x="564.2" y="169.6" width="6" height="6" fill="#5B9BD5"/>
<path d="M385 29.99 L385.55 35.26 L386.1 40.43 L386.65 45.46 L387.19 50.37 L387.74 55.16 L388.29 59.82 L388.84 64.36 L389.39 68.78 L389.94 73.08 L390.48 77.27 L391.03 81.33 L391.58 85.28 L392.13 89.12 L392.68 92.84 L393.23 96.45 L393.77 99.95 L394.32 103.34 L394.87 106.62 L395.42 109.79 L395.97 112.85 L396.52 115.76 L397.07 118.53 L397.61 121.14 L398.16 123.61 L398.71 126 L399.26 128.34 L399.81 130.67 L400.36 132.97 L400.9 135.15 L401.45 137.15 L402 138.9 L402.55 140.39 L403.1 141.64 L403.65 142.69 L404.19 143.59 L404.74 144.38 L405.29 145.12 L405.84 145.82 L406.39 146.5 L406.94 147.16 L407.49 147.82 L408.03 148.46 L408.58 149.09 L409.13 149.7 L409.68 150.3 L410.23 150.88 L410.78 151.44 L411.32 151.99 L411.87 152.52 L412.42 153.03 L412.97 153.53 L413.52 154.01 L414.07 154.48 L414.62 154.93 L415.16 155.37 L415.71 155.8 L416.26 156.21 L416.81 156.61 L417.36 157 L417.91 157.38 L418.45 157.75 L419 158.11 L419.55 158.45 L420.1 158.79 L420.65 159.12 L421.2 159.44 L421.74 159.75 L422.29 160.05 L422.84 160.35 L423.39 160.63 L423.94 160.91 L424.49 161.18 L425.04 161.44 L425.58 161.7 L426.13 161.95 L426.68 162.19 L427.23 162.43 L427.78 162.67 L428.33 162.89 L428.87 163.12 L429.42 163.34 L429.97 163.55 L430.52 163.76 L431.07 163.96 L431.62 164.16 L432.16 164.35 L432.71 164.54 L433.26 164.72 L433.81 164.9 L434.36 165.07 L434.91 165.23 L435.46 165.39 L436 165.55 L436.55 165.7 L437.1 165.84 L437.65 165.99 L438.2 166.13 L438.75 166.27 L439.29 166.41 L439.84 166.54 L440.39 166.68 L440.94 166.81 L441.49 166.95 L442.04 167.08 L442.58 167.22 L443.13 167.36 L443.68 167.5 L444.23 167.65 L444.78 167.79 L445.33 167.94 L445.88 168.09 L446.42 168.24 L446.97 168.39 L447.52 168.54 L448.07 168.7 L448.62 168.85 L449.17 169.01 L449.71 169.16 L450.26 169.32 L450.81 169.47 L451.36 169.62 L451.91 169.78 L452.46 169.93 L453.01 170.08 L453.55 170.22 L454.1 170.37 L454.65 170.51 L455.2 170.65 L455.75 170.79 L456.3 170.92 L456.84 171.06 L457.39 171.19 L457.94 171.31 L458.49 171.44 L459.04 171.56 L459.59 171.69 L460.13 171.81 L460.68 171.92 L461.23 172.04 L461.78 172.16 L462.33 172.27 L462.88 172.38 L463.43 172.49 L463.97 172.6 L464.52 172.7 L465.07 172.81 L465.62 172.91 L466.17 173.01 L466.72 173.11 L467.26 173.21 L467.81 173.3 L468.36 173.4 L468.91 173.49 L469.46 173.58 L470.01 173.66 L470.55 173.74 L471.1 173.82 L471.65 173.9 L472.2 173.98 L472.75 174.05 L473.3 174.12 L473.85 174.18 L474.39 174.25 L474.94 174.31 L475.49 174.36 L476.04 174.42 L476.59 174.47 L477.14 174.52 L477.68 174.57 L478.23 174.62 L478.78 174.66 L479.33 174.7 L479.88 174.74 L480.43 174.78 L480.97 174.81 L481.52 174.85 L482.07 174.88 L482.62 174.91 L483.17 174.94 L483.72 174.97 L484.27 175 L484.81 175.03 L485.36 175.05 L485.91 175.08 L486.46 175.1 L487.01 175.13 L487.56 175.15 L488.1 175.17 L488.65 175.19 L489.2 175.22 L489.75 175.24 L490.3 175.26 L490.85 175.28 L491.4 175.3 L491.94 175.32 L492.49 175.34 L493.04 175.36 L493.59 175.39 L494.14 175.41 L494.69 175.43 L495.23 175.45 L495.78 175.47 L496.33 175.49 L496.88 175.51 L497.43 175.53 L497.98 175.56 L498.52 175.58 L499.07 175.6 L499.62 175.62 L500.17 175.65 L500.72 175.67 L501.27 175.69 L501.82 175.71 L502.36 175.74 L502.91 175.76 L503.46 175.78 L504.01 175.81 L504.56 175.83 L505.11 175.86 L505.65 175.88 L506.2 175.91 L506.75 175.93 L507.3 175.96 L507.85 175.98 L508.4 176.01 L508.94 176.03 L509.49 176.06 L510.04 176.08 L510.59 176.11 L511.14 176.13 L511.69 176.16 L512.24 176.18 L512.78 176.21 L513.33 176.24 L513.88 176.26 L514.43 176.29 L514.98 176.32 L515.53 176.34 L516.07 176.37 L516.62 176.4 L517.17 176.42 L517.72 176.45 L518.27 176.48 L518.82 176.5 L519.36 176.53 L519.91 176.56 L520.46 176.58 L521.01 176.61 L521.56 176.64 L522.11 176.66 L522.66 176.69 L523.2 176.72 L523.75 176.74 L524.3 176.77 L524.85 176.8 L525.4 176.82 L525.95 176.85 L526.49 176.88 L527.04 176.91 L527.59 176.93 L528.14 176.96 L528.69 176.99 L529.24 177.01 L529.79 177.04 L530.33 177.07 L530.88 177.1 L531.43 177.12 L531.98 177.15 L532.53 177.18 L533.08 177.2 L533.62 177.23 L534.17 177.26 L534.72 177.28 L535.27 177.31 L535.82 177.34 L536.37 177.36 L536.91 177.39 L537.46 177.42 L538.01 177.44 L538.56 177.47 L539.11 177.5 L539.66 177.52 L540.21 177.55 L540.75 177.57 L541.3 177.6 L541.85 177.62 L542.4 177.65 L542.95 177.67 L543.5 177.7 L544.04 177.72 L544.59 177.75 L545.14 177.77 L545.69 177.79 L546.24 177.82 L546.79 177.84 L547.33 177.86 L547.88 177.88 L548.43 177.9 L548.98 177.92" fill="none" stroke="#2EBE62" stroke-width="1.9" stroke-linejoin="round" stroke-linecap="round"/>
<rect x="382" y="28.5" width="6" height="6" fill="#2EBE62"/>
<rect x="390.84" y="112.3" width="6" height="6" fill="#2EBE62"/>
<rect x="400.22" y="138.6" width="6" height="6" fill="#2EBE62"/>
<rect x="409.33" y="150.6" width="6" height="6" fill="#2EBE62"/>
<rect x="418.44" y="157.6" width="6" height="6" fill="#2EBE62"/>
<rect x="427.55" y="159.6" width="6" height="6" fill="#2EBE62"/>
<rect x="436.66" y="161.7" width="6" height="6" fill="#2EBE62"/>
<rect x="445.77" y="163.3" width="6" height="6" fill="#2EBE62"/>
<rect x="454.88" y="164.8" width="6" height="6" fill="#2EBE62"/>
<rect x="463.99" y="166.9" width="6" height="6" fill="#2EBE62"/>
<rect x="473.1" y="169" width="6" height="6" fill="#2EBE62"/>
<rect x="482.21" y="168.9" width="6" height="6" fill="#2EBE62"/>
<rect x="491.32" y="171.2" width="6" height="6" fill="#2EBE62"/>
<rect x="500.43" y="171.2" width="6" height="6" fill="#2EBE62"/>
<rect x="509.54" y="171.2" width="6" height="6" fill="#2EBE62"/>
<rect x="518.65" y="172.1" width="6" height="6" fill="#2EBE62"/>
<rect x="527.76" y="173.2" width="6" height="6" fill="#2EBE62"/>
<rect x="536.87" y="173.2" width="6" height="6" fill="#2EBE62"/>
<rect x="545.98" y="175.2" width="6" height="6" fill="#2EBE62"/>
<path d="M385 28.99 L385.49 33.96 L385.97 38.85 L386.46 43.64 L386.95 48.33 L387.44 52.92 L387.92 57.41 L388.41 61.82 L388.9 66.13 L389.39 70.35 L389.87 74.48 L390.36 78.53 L390.85 82.5 L391.34 86.38 L391.82 90.18 L392.31 93.9 L392.8 97.54 L393.29 101.11 L393.77 104.61 L394.26 108.03 L394.75 111.38 L395.24 114.66 L395.72 117.84 L396.21 120.92 L396.7 123.89 L397.19 126.72 L397.67 129.38 L398.16 131.87 L398.65 134.16 L399.14 136.23 L399.62 138.09 L400.11 139.75 L400.6 141.23 L401.09 142.55 L401.57 143.76 L402.06 144.86 L402.55 145.9 L403.04 146.87 L403.52 147.79 L404.01 148.67 L404.5 149.51 L404.99 150.31 L405.47 151.06 L405.96 151.77 L406.45 152.43 L406.94 153.05 L407.42 153.62 L407.91 154.16 L408.4 154.66 L408.89 155.13 L409.37 155.58 L409.86 156.02 L410.35 156.44 L410.84 156.86 L411.32 157.27 L411.81 157.67 L412.3 158.08 L412.79 158.48 L413.27 158.88 L413.76 159.27 L414.25 159.66 L414.74 160.04 L415.22 160.42 L415.71 160.79 L416.2 161.14 L416.69 161.49 L417.17 161.84 L417.66 162.17 L418.15 162.49 L418.64 162.81 L419.12 163.12 L419.61 163.43 L420.1 163.72 L420.59 164.01 L421.07 164.3 L421.56 164.58 L422.05 164.86 L422.54 165.13 L423.02 165.4 L423.51 165.67 L424 165.93 L424.49 166.19 L424.97 166.45 L425.46 166.7 L425.95 166.95 L426.44 167.19 L426.92 167.44 L427.41 167.68 L427.9 167.91 L428.39 168.15 L428.87 168.38 L429.36 168.61 L429.85 168.83 L430.34 169.05 L430.82 169.27 L431.31 169.48 L431.8 169.69 L432.29 169.9 L432.77 170.1 L433.26 170.29 L433.75 170.48 L434.24 170.67 L434.72 170.85 L435.21 171.03 L435.7 171.2 L436.19 171.37 L436.67 171.54 L437.16 171.7 L437.65 171.85 L438.14 172.01 L438.62 172.15 L439.11 172.3 L439.6 172.44 L440.09 172.58 L440.57 172.72 L441.06 172.86 L441.55 172.99 L442.04 173.12 L442.52 173.25 L443.01 173.38 L443.5 173.5 L443.99 173.62 L444.47 173.75 L444.96 173.87 L445.45 173.98 L445.94 174.1 L446.42 174.22 L446.91 174.33 L447.4 174.45 L447.89 174.56 L448.37 174.67 L448.86 174.79 L449.35 174.9 L449.84 175 L450.32 175.11 L450.81 175.22 L451.3 175.33 L451.79 175.43 L452.27 175.54 L452.76 175.64 L453.25 175.74 L453.74 175.84 L454.22 175.94 L454.71 176.04 L455.2 176.14 L455.69 176.24 L456.17 176.33 L456.66 176.43 L457.15 176.52 L457.64 176.62 L458.12 176.71 L458.61 176.8 L459.1 176.89 L459.59 176.98 L460.07 177.06 L460.56 177.15 L461.05 177.23 L461.54 177.32 L462.02 177.4 L462.51 177.48 L463 177.56 L463.49 177.64 L463.97 177.71 L464.46 177.79 L464.95 177.86 L465.44 177.93 L465.92 178 L466.41 178.07 L466.9 178.14 L467.39 178.21 L467.87 178.27 L468.36 178.33 L468.85 178.4 L469.34 178.46 L469.82 178.51 L470.31 178.57 L470.8 178.63 L471.29 178.68 L471.77 178.73 L472.26 178.78 L472.75 178.83 L473.24 178.88 L473.72 178.93 L474.21 178.97 L474.7 179.01 L475.19 179.06 L475.67 179.1 L476.16 179.14 L476.65 179.17 L477.14 179.21 L477.62 179.25 L478.11 179.28 L478.6 179.31 L479.09 179.35 L479.57 179.38 L480.06 179.41 L480.55 179.44 L481.04 179.47 L481.52 179.49 L482.01 179.52 L482.5 179.55 L482.99 179.57 L483.47 179.6 L483.96 179.62 L484.45 179.65 L484.94 179.67 L485.42 179.69 L485.91 179.72 L486.4 179.74 L486.89 179.76 L487.37 179.78 L487.86 179.81 L488.35 179.83 L488.84 179.85 L489.32 179.87 L489.81 179.89 L490.3 179.91 L490.79 179.93 L491.27 179.95 L491.76 179.97 L492.25 179.99 L492.74 180.01 L493.22 180.03 L493.71 180.06 L494.2 180.08 L494.69 180.1 L495.17 180.12 L495.66 180.14 L496.15 180.16 L496.64 180.18 L497.12 180.2 L497.61 180.22 L498.1 180.24 L498.59 180.27 L499.07 180.29 L499.56 180.31 L500.05 180.33 L500.54 180.35 L501.02 180.38 L501.51 180.4 L502 180.42 L502.49 180.44 L502.97 180.47 L503.46 180.49 L503.95 180.51 L504.44 180.53 L504.92 180.56 L505.41 180.58 L505.9 180.6 L506.39 180.63 L506.87 180.65 L507.36 180.68 L507.85 180.7 L508.34 180.72 L508.82 180.75 L509.31 180.77 L509.8 180.8 L510.29 180.82 L510.77 180.85 L511.26 180.87 L511.75 180.9 L512.24 180.92 L512.72 180.95 L513.21 180.98 L513.7 181 L514.19 181.03 L514.67 181.05 L515.16 181.08 L515.65 181.11 L516.14 181.13 L516.62 181.16 L517.11 181.19 L517.6 181.22 L518.09 181.24 L518.57 181.27 L519.06 181.3 L519.55 181.33 L520.04 181.36 L520.52 181.38 L521.01 181.41 L521.5 181.44 L521.99 181.47 L522.47 181.5 L522.96 181.53 L523.45 181.55 L523.94 181.58 L524.42 181.61 L524.91 181.64 L525.4 181.67 L525.89 181.7 L526.37 181.72 L526.86 181.75 L527.35 181.78 L527.84 181.81 L528.32 181.83 L528.81 181.86 L529.3 181.89 L529.79 181.91 L530.27 181.94 L530.76 181.97" fill="none" stroke="#FFC000" stroke-width="1.9" stroke-linejoin="round" stroke-linecap="round"/>
<rect x="382" y="25.5" width="6" height="6" fill="#FFC000"/>
<rect x="390.84" y="116.5" width="6" height="6" fill="#FFC000"/>
<rect x="399.31" y="149.7" width="6" height="6" fill="#FFC000"/>
<rect x="409.33" y="155.9" width="6" height="6" fill="#FFC000"/>
<rect x="418.44" y="162.1" width="6" height="6" fill="#FFC000"/>
<rect x="427.55" y="165.8" width="6" height="6" fill="#FFC000"/>
<rect x="436.66" y="166.9" width="6" height="6" fill="#FFC000"/>
<rect x="445.77" y="168.4" width="6" height="6" fill="#FFC000"/>
<rect x="454.88" y="170" width="6" height="6" fill="#FFC000"/>
<rect x="463.99" y="171" width="6" height="6" fill="#FFC000"/>
<rect x="473.1" y="172.6" width="6" height="6" fill="#FFC000"/>
<rect x="482.21" y="173.5" width="6" height="6" fill="#FFC000"/>
<rect x="491.32" y="174.5" width="6" height="6" fill="#FFC000"/>
<rect x="500.43" y="175.5" width="6" height="6" fill="#FFC000"/>
<rect x="509.54" y="176.3" width="6" height="6" fill="#FFC000"/>
<rect x="518.65" y="176.7" width="6" height="6" fill="#FFC000"/>
<rect x="527.76" y="178.8" width="6" height="6" fill="#FFC000"/>
<path d="M385 25.97 L385.43 32.22 L385.85 38.3 L386.28 44.15 L386.71 49.71 L387.13 54.94 L387.56 59.84 L387.99 64.45 L388.41 68.82 L388.84 73 L389.27 77.01 L389.69 80.87 L390.12 84.62 L390.55 88.25 L390.97 91.8 L391.4 95.26 L391.82 98.62 L392.25 101.89 L392.68 105.08 L393.1 108.2 L393.53 111.3 L393.96 114.42 L394.38 117.59 L394.81 120.8 L395.24 123.97 L395.66 127 L396.09 129.81 L396.52 132.35 L396.94 134.6 L397.37 136.63 L397.8 138.51 L398.22 140.27 L398.65 141.98 L399.08 143.63 L399.5 145.23 L399.93 146.76 L400.36 148.22 L400.78 149.59 L401.21 150.88 L401.64 152.09 L402.06 153.23 L402.49 154.28 L402.92 155.27 L403.34 156.19 L403.77 157.06 L404.19 157.87 L404.62 158.64 L405.05 159.36 L405.47 160.05 L405.9 160.7 L406.33 161.32 L406.75 161.91 L407.18 162.48 L407.61 163.02 L408.03 163.55 L408.46 164.04 L408.89 164.52 L409.31 164.98 L409.74 165.42 L410.17 165.84 L410.59 166.24 L411.02 166.63 L411.45 166.99 L411.87 167.35 L412.3 167.69 L412.73 168.02 L413.15 168.33 L413.58 168.64 L414.01 168.94 L414.43 169.23 L414.86 169.51 L415.29 169.79 L415.71 170.06 L416.14 170.32 L416.57 170.59 L416.99 170.85 L417.42 171.1 L417.84 171.35 L418.27 171.6 L418.7 171.85 L419.12 172.09 L419.55 172.33 L419.98 172.57 L420.4 172.81 L420.83 173.05 L421.26 173.28 L421.68 173.51 L422.11 173.74 L422.54 173.97 L422.96 174.2 L423.39 174.42 L423.82 174.65 L424.24 174.87 L424.67 175.1 L425.1 175.32 L425.52 175.54 L425.95 175.75 L426.38 175.97 L426.8 176.18 L427.23 176.39 L427.66 176.6 L428.08 176.8 L428.51 177 L428.94 177.2 L429.36 177.39 L429.79 177.58 L430.21 177.77 L430.64 177.95 L431.07 178.12 L431.49 178.29 L431.92 178.46 L432.35 178.62 L432.77 178.78 L433.2 178.93 L433.63 179.07 L434.05 179.21 L434.48 179.35 L434.91 179.48 L435.33 179.61 L435.76 179.73 L436.19 179.85 L436.61 179.96 L437.04 180.08 L437.47 180.18 L437.89 180.29 L438.32 180.39 L438.75 180.49 L439.17 180.58 L439.6 180.68 L440.03 180.77 L440.45 180.86 L440.88 180.94 L441.31 181.03 L441.73 181.11 L442.16 181.19 L442.58 181.27 L443.01 181.35 L443.44 181.43 L443.86 181.51 L444.29 181.58 L444.72 181.66 L445.14 181.73 L445.57 181.8 L446 181.87 L446.42 181.94 L446.85 182.01 L447.28 182.08 L447.7 182.15 L448.13 182.22 L448.56 182.28 L448.98 182.35 L449.41 182.41 L449.84 182.47 L450.26 182.54 L450.69 182.6 L451.12 182.66 L451.54 182.72 L451.97 182.78 L452.4 182.84 L452.82 182.89 L453.25 182.95 L453.68 183 L454.1 183.06 L454.53 183.11 L454.96 183.16 L455.38 183.22 L455.81 183.27 L456.23 183.32 L456.66 183.37 L457.09 183.41 L457.51 183.46 L457.94 183.51 L458.37 183.55 L458.79 183.6 L459.22 183.64 L459.65 183.68 L460.07 183.73 L460.5 183.77 L460.93 183.81 L461.35 183.85 L461.78 183.89 L462.21 183.93 L462.63 183.96 L463.06 184 L463.49 184.04 L463.91 184.07 L464.34 184.1 L464.77 184.14 L465.19 184.17 L465.62 184.2 L466.05 184.23 L466.47 184.26 L466.9 184.29 L467.33 184.32 L467.75 184.35 L468.18 184.38 L468.6 184.41 L469.03 184.43 L469.46 184.46 L469.88 184.48 L470.31 184.51 L470.74 184.53 L471.16 184.55 L471.59 184.58 L472.02 184.6 L472.44 184.62 L472.87 184.64 L473.3 184.66 L473.72 184.68 L474.15 184.7 L474.58 184.72 L475 184.73 L475.43 184.75 L475.86 184.77 L476.28 184.78 L476.71 184.8 L477.14 184.82 L477.56 184.83 L477.99 184.85 L478.42 184.86 L478.84 184.88 L479.27 184.89 L479.7 184.9 L480.12 184.92 L480.55 184.93 L480.97 184.94 L481.4 184.96 L481.83 184.97 L482.25 184.98 L482.68 184.99 L483.11 185 L483.53 185.01 L483.96 185.03 L484.39 185.04 L484.81 185.05 L485.24 185.06 L485.67 185.07 L486.09 185.08 L486.52 185.09 L486.95 185.1 L487.37 185.11 L487.8 185.12 L488.23 185.13 L488.65 185.14 L489.08 185.15 L489.51 185.16 L489.93 185.17 L490.36 185.18 L490.79 185.19 L491.21 185.2 L491.64 185.21 L492.07 185.22 L492.49 185.23 L492.92 185.24 L493.35 185.25 L493.77 185.27 L494.2 185.28 L494.62 185.29 L495.05 185.3 L495.48 185.31 L495.9 185.32 L496.33 185.33 L496.76 185.34 L497.18 185.35 L497.61 185.36 L498.04 185.37 L498.46 185.39 L498.89 185.4 L499.32 185.41 L499.74 185.42 L500.17 185.43 L500.6 185.44 L501.02 185.46 L501.45 185.47 L501.88 185.48 L502.3 185.49 L502.73 185.5 L503.16 185.52 L503.58 185.53 L504.01 185.54 L504.44 185.55 L504.86 185.57 L505.29 185.58 L505.72 185.59 L506.14 185.6 L506.57 185.62 L506.99 185.63 L507.42 185.64 L507.85 185.65 L508.27 185.67 L508.7 185.68 L509.13 185.69 L509.55 185.71 L509.98 185.72 L510.41 185.73 L510.83 185.74 L511.26 185.75 L511.69 185.77 L512.11 185.78 L512.54 185.79" fill="none" stroke="#EE0A14" stroke-width="1.9" stroke-linejoin="round" stroke-linecap="round"/>
<rect x="382" y="25.4" width="6" height="6" fill="#EE0A14"/>
<rect x="390.84" y="122.1" width="6" height="6" fill="#EE0A14"/>
<rect x="399.67" y="158.8" width="6" height="6" fill="#EE0A14"/>
<rect x="409.33" y="165.8" width="6" height="6" fill="#EE0A14"/>
<rect x="418.44" y="168.3" width="6" height="6" fill="#EE0A14"/>
<rect x="427.55" y="173.4" width="6" height="6" fill="#EE0A14"/>
<rect x="436.66" y="175.1" width="6" height="6" fill="#EE0A14"/>
<rect x="445.77" y="175.1" width="6" height="6" fill="#EE0A14"/>
<rect x="454.88" y="175.7" width="6" height="6" fill="#EE0A14"/>
<rect x="463.99" y="176.2" width="6" height="6" fill="#EE0A14"/>
<rect x="473.1" y="177.2" width="6" height="6" fill="#EE0A14"/>
<rect x="482.21" y="177.7" width="6" height="6" fill="#EE0A14"/>
<rect x="491.32" y="177.7" width="6" height="6" fill="#EE0A14"/>
<rect x="500.43" y="177.7" width="6" height="6" fill="#EE0A14"/>
<rect x="509.54" y="181.4" width="6" height="6" fill="#EE0A14"/>
</g>
<g clip-path="url(#clipC)">
<path d="M51.7 266.5 L52.46 268.56 L53.22 270.62 L53.99 272.68 L54.75 274.73 L55.51 276.78 L56.27 278.82 L57.03 280.86 L57.79 282.9 L58.56 284.93 L59.32 286.95 L60.08 288.98 L60.84 291 L61.6 293.02 L62.36 295.04 L63.13 297.05 L63.89 299.06 L64.65 301.06 L65.41 303.06 L66.17 305.03 L66.93 307 L67.7 308.96 L68.46 310.92 L69.22 312.87 L69.98 314.82 L70.74 316.75 L71.5 318.66 L72.27 320.53 L73.03 322.36 L73.79 324.13 L74.55 325.85 L75.31 327.51 L76.07 329.11 L76.84 330.66 L77.6 332.16 L78.36 333.63 L79.12 335.06 L79.88 336.46 L80.64 337.84 L81.41 339.2 L82.17 340.54 L82.93 341.87 L83.69 343.17 L84.45 344.47 L85.22 345.75 L85.98 347.01 L86.74 348.27 L87.5 349.51 L88.26 350.74 L89.02 351.96 L89.79 353.17 L90.55 354.37 L91.31 355.56 L92.07 356.74 L92.83 357.9 L93.59 359.05 L94.36 360.17 L95.12 361.27 L95.88 362.35 L96.64 363.39 L97.4 364.41 L98.16 365.41 L98.93 366.37 L99.69 367.31 L100.45 368.23 L101.21 369.12 L101.97 369.99 L102.73 370.84 L103.5 371.67 L104.26 372.48 L105.02 373.28 L105.78 374.06 L106.54 374.84 L107.3 375.59 L108.07 376.34 L108.83 377.07 L109.59 377.79 L110.35 378.5 L111.11 379.19 L111.87 379.87 L112.64 380.53 L113.4 381.17 L114.16 381.8 L114.92 382.41 L115.68 383 L116.44 383.57 L117.21 384.12 L117.97 384.66 L118.73 385.18 L119.49 385.68 L120.25 386.17 L121.02 386.64 L121.78 387.1 L122.54 387.54 L123.3 387.97 L124.06 388.4 L124.82 388.8 L125.59 389.2 L126.35 389.59 L127.11 389.97 L127.87 390.34 L128.63 390.7 L129.39 391.05 L130.16 391.39 L130.92 391.72 L131.68 392.05 L132.44 392.36 L133.2 392.67 L133.96 392.96 L134.73 393.25 L135.49 393.53 L136.25 393.8 L137.01 394.06 L137.77 394.31 L138.53 394.56 L139.3 394.8 L140.06 395.02 L140.82 395.24 L141.58 395.46 L142.34 395.67 L143.1 395.87 L143.87 396.06 L144.63 396.25 L145.39 396.43 L146.15 396.61 L146.91 396.78 L147.67 396.94 L148.44 397.11 L149.2 397.26 L149.96 397.41 L150.72 397.56 L151.48 397.7 L152.25 397.84 L153.01 397.97 L153.77 398.1 L154.53 398.22 L155.29 398.34 L156.05 398.46 L156.82 398.57 L157.58 398.68 L158.34 398.78 L159.1 398.88 L159.86 398.97 L160.62 399.07 L161.39 399.16 L162.15 399.24 L162.91 399.32 L163.67 399.4 L164.43 399.48 L165.19 399.55 L165.96 399.63 L166.72 399.7 L167.48 399.76 L168.24 399.83 L169 399.89 L169.76 399.95 L170.53 400.01 L171.29 400.07 L172.05 400.13 L172.81 400.18 L173.57 400.24 L174.33 400.29 L175.1 400.34 L175.86 400.39 L176.62 400.44 L177.38 400.49 L178.14 400.53 L178.9 400.58 L179.67 400.62 L180.43 400.67 L181.19 400.71 L181.95 400.75 L182.71 400.79 L183.48 400.83 L184.24 400.87 L185 400.91 L185.76 400.95 L186.52 400.99 L187.28 401.02 L188.05 401.06 L188.81 401.09 L189.57 401.13 L190.33 401.16 L191.09 401.2 L191.85 401.23 L192.62 401.26 L193.38 401.29 L194.14 401.32 L194.9 401.36 L195.66 401.39 L196.42 401.42 L197.19 401.44 L197.95 401.47 L198.71 401.5 L199.47 401.53 L200.23 401.56 L200.99 401.58 L201.76 401.61 L202.52 401.64 L203.28 401.66 L204.04 401.69 L204.8 401.71 L205.56 401.74 L206.33 401.76 L207.09 401.79 L207.85 401.81 L208.61 401.83 L209.37 401.85 L210.13 401.88 L210.9 401.9 L211.66 401.92 L212.42 401.94 L213.18 401.97 L213.94 401.99 L214.71 402.01 L215.47 402.03 L216.23 402.05 L216.99 402.07 L217.75 402.09 L218.51 402.11 L219.28 402.13 L220.04 402.15 L220.8 402.17 L221.56 402.19 L222.32 402.21 L223.08 402.23 L223.85 402.25 L224.61 402.27 L225.37 402.29 L226.13 402.31 L226.89 402.33 L227.65 402.34 L228.42 402.36 L229.18 402.38 L229.94 402.4 L230.7 402.42 L231.46 402.44 L232.22 402.46 L232.99 402.47 L233.75 402.49 L234.51 402.51 L235.27 402.53 L236.03 402.55 L236.79 402.57 L237.56 402.58 L238.32 402.6 L239.08 402.62 L239.84 402.64 L240.6 402.66 L241.36 402.67 L242.13 402.69 L242.89 402.71 L243.65 402.73 L244.41 402.74 L245.17 402.76 L245.93 402.78 L246.7 402.8 L247.46 402.81 L248.22 402.83 L248.98 402.85 L249.74 402.87 L250.51 402.88 L251.27 402.9 L252.03 402.92 L252.79 402.93 L253.55 402.95 L254.31 402.97 L255.08 402.98 L255.84 403 L256.6 403.02 L257.36 403.03 L258.12 403.05 L258.88 403.06 L259.65 403.08 L260.41 403.09 L261.17 403.11 L261.93 403.13 L262.69 403.14 L263.45 403.16 L264.22 403.17 L264.98 403.18 L265.74 403.2 L266.5 403.21 L267.26 403.23 L268.02 403.24 L268.79 403.25 L269.55 403.27 L270.31 403.28 L271.07 403.29 L271.83 403.3 L272.59 403.32 L273.36 403.33 L274.12 403.34 L274.88 403.35 L275.64 403.36 L276.4 403.37 L277.16 403.38 L277.93 403.39 L278.69 403.4 L279.45 403.41" fill="none" stroke="#5E9C9E" stroke-width="1.9" stroke-linejoin="round" stroke-linecap="round"/>
<circle cx="51.7" cy="266" r="2.75" fill="#fff" stroke="#5E9C9E" stroke-width="1.3"/>
<circle cx="61.36" cy="286.7" r="2.75" fill="#fff" stroke="#5E9C9E" stroke-width="1.3"/>
<circle cx="69.92" cy="318.8" r="2.75" fill="#fff" stroke="#5E9C9E" stroke-width="1.3"/>
<circle cx="78.48" cy="340.4" r="2.75" fill="#fff" stroke="#5E9C9E" stroke-width="1.3"/>
<circle cx="88.14" cy="357.3" r="2.75" fill="#fff" stroke="#5E9C9E" stroke-width="1.3"/>
<circle cx="97.25" cy="370.7" r="2.75" fill="#fff" stroke="#5E9C9E" stroke-width="1.3"/>
<circle cx="106.36" cy="378.6" r="2.75" fill="#fff" stroke="#5E9C9E" stroke-width="1.3"/>
<circle cx="115.47" cy="383.8" r="2.75" fill="#fff" stroke="#5E9C9E" stroke-width="1.3"/>
<circle cx="124.58" cy="386.7" r="2.75" fill="#fff" stroke="#5E9C9E" stroke-width="1.3"/>
<circle cx="133.69" cy="388.1" r="2.75" fill="#fff" stroke="#5E9C9E" stroke-width="1.3"/>
<circle cx="142.8" cy="390" r="2.75" fill="#fff" stroke="#5E9C9E" stroke-width="1.3"/>
<circle cx="151.91" cy="390.7" r="2.75" fill="#fff" stroke="#5E9C9E" stroke-width="1.3"/>
<circle cx="161.02" cy="392.5" r="2.75" fill="#fff" stroke="#5E9C9E" stroke-width="1.3"/>
<circle cx="170.13" cy="394.5" r="2.75" fill="#fff" stroke="#5E9C9E" stroke-width="1.3"/>
<circle cx="179.24" cy="396.3" r="2.75" fill="#fff" stroke="#5E9C9E" stroke-width="1.3"/>
<circle cx="188.35" cy="397.3" r="2.75" fill="#fff" stroke="#5E9C9E" stroke-width="1.3"/>
<circle cx="197.46" cy="398.8" r="2.75" fill="#fff" stroke="#5E9C9E" stroke-width="1.3"/>
<circle cx="206.57" cy="399.5" r="2.75" fill="#fff" stroke="#5E9C9E" stroke-width="1.3"/>
<circle cx="215.68" cy="400" r="2.75" fill="#fff" stroke="#5E9C9E" stroke-width="1.3"/>
<circle cx="224.79" cy="400.3" r="2.75" fill="#fff" stroke="#5E9C9E" stroke-width="1.3"/>
<circle cx="233.9" cy="401" r="2.75" fill="#fff" stroke="#5E9C9E" stroke-width="1.3"/>
<circle cx="243.01" cy="401.3" r="2.75" fill="#fff" stroke="#5E9C9E" stroke-width="1.3"/>
<circle cx="252.12" cy="401.5" r="2.75" fill="#fff" stroke="#5E9C9E" stroke-width="1.3"/>
<circle cx="261.23" cy="401.7" r="2.75" fill="#fff" stroke="#5E9C9E" stroke-width="1.3"/>
<circle cx="270.34" cy="402" r="2.75" fill="#fff" stroke="#5E9C9E" stroke-width="1.3"/>
<circle cx="279.45" cy="402.5" r="2.75" fill="#fff" stroke="#5E9C9E" stroke-width="1.3"/>
<path d="M51.7 264.02 L52.49 264.78 L53.28 265.82 L54.08 267.14 L54.87 268.69 L55.66 270.45 L56.45 272.39 L57.25 274.48 L58.04 276.7 L58.83 279.03 L59.62 281.57 L60.41 284.42 L61.21 287.53 L62 290.63 L62.79 293.53 L63.58 296.2 L64.37 298.68 L65.17 301.05 L65.96 303.35 L66.75 305.64 L67.54 307.97 L68.34 310.36 L69.13 312.85 L69.92 315.42 L70.71 318.08 L71.5 320.81 L72.3 323.58 L73.09 326.39 L73.88 329.22 L74.67 332.05 L75.47 334.84 L76.26 337.57 L77.05 340.19 L77.84 342.68 L78.63 345.03 L79.43 347.23 L80.22 349.3 L81.01 351.24 L81.8 353.08 L82.59 354.81 L83.39 356.46 L84.18 358.03 L84.97 359.54 L85.76 360.99 L86.56 362.39 L87.35 363.75 L88.14 365.07 L88.93 366.35 L89.72 367.61 L90.52 368.84 L91.31 370.04 L92.1 371.21 L92.89 372.35 L93.69 373.46 L94.48 374.54 L95.27 375.58 L96.06 376.6 L96.85 377.58 L97.65 378.53 L98.44 379.44 L99.23 380.33 L100.02 381.18 L100.81 382.01 L101.61 382.8 L102.4 383.57 L103.19 384.31 L103.98 385.02 L104.78 385.7 L105.57 386.36 L106.36 386.99 L107.15 387.6 L107.94 388.18 L108.74 388.74 L109.53 389.27 L110.32 389.77 L111.11 390.25 L111.91 390.71 L112.7 391.14 L113.49 391.55 L114.28 391.93 L115.07 392.3 L115.87 392.64 L116.66 392.97 L117.45 393.28 L118.24 393.57 L119.03 393.85 L119.83 394.12 L120.62 394.37 L121.41 394.62 L122.2 394.85 L123 395.08 L123.79 395.29 L124.58 395.5 L125.37 395.7 L126.16 395.9 L126.96 396.09 L127.75 396.27 L128.54 396.45 L129.33 396.63 L130.13 396.8 L130.92 396.97 L131.71 397.13 L132.5 397.29 L133.29 397.44 L134.09 397.59 L134.88 397.74 L135.67 397.88 L136.46 398.02 L137.25 398.16 L138.05 398.29 L138.84 398.42 L139.63 398.55 L140.42 398.68 L141.22 398.8 L142.01 398.91 L142.8 399.03 L143.59 399.14 L144.38 399.25 L145.18 399.35 L145.97 399.45 L146.76 399.55 L147.55 399.65 L148.35 399.74 L149.14 399.82 L149.93 399.91 L150.72 399.99 L151.51 400.07 L152.31 400.14 L153.1 400.21 L153.89 400.27 L154.68 400.34 L155.47 400.4 L156.27 400.45 L157.06 400.51 L157.85 400.56 L158.64 400.61 L159.44 400.65 L160.23 400.69 L161.02 400.73 L161.81 400.77 L162.6 400.8 L163.4 400.84 L164.19 400.87 L164.98 400.9 L165.77 400.93 L166.57 400.95 L167.36 400.98 L168.15 401 L168.94 401.03 L169.73 401.05 L170.53 401.07 L171.32 401.09 L172.11 401.11 L172.9 401.13 L173.69 401.14 L174.49 401.16 L175.28 401.18 L176.07 401.19 L176.86 401.21 L177.66 401.22 L178.45 401.24 L179.24 401.25 L180.03 401.26 L180.82 401.28 L181.62 401.29 L182.41 401.3 L183.2 401.32 L183.99 401.33 L184.79 401.34 L185.58 401.35 L186.37 401.36 L187.16 401.38 L187.95 401.39 L188.75 401.4 L189.54 401.41 L190.33 401.42 L191.12 401.43 L191.91 401.44 L192.71 401.45 L193.5 401.46 L194.29 401.48 L195.08 401.49 L195.88 401.5 L196.67 401.51 L197.46 401.52 L198.25 401.53 L199.04 401.54 L199.84 401.55 L200.63 401.56 L201.42 401.57 L202.21 401.58 L203.01 401.59 L203.8 401.6 L204.59 401.61 L205.38 401.62 L206.17 401.63 L206.97 401.64 L207.76 401.65 L208.55 401.65 L209.34 401.66 L210.13 401.67 L210.93 401.68 L211.72 401.69 L212.51 401.7 L213.3 401.71 L214.1 401.72 L214.89 401.73 L215.68 401.74 L216.47 401.75 L217.26 401.76 L218.06 401.77 L218.85 401.77 L219.64 401.78 L220.43 401.79 L221.23 401.8 L222.02 401.81 L222.81 401.82 L223.6 401.83 L224.39 401.84 L225.19 401.85 L225.98 401.86 L226.77 401.87 L227.56 401.87 L228.35 401.88 L229.15 401.89 L229.94 401.9 L230.73 401.91 L231.52 401.92 L232.32 401.93 L233.11 401.94 L233.9 401.95 L234.69 401.96 L235.48 401.97 L236.28 401.98 L237.07 401.98 L237.86 401.99 L238.65 402 L239.45 402.01 L240.24 402.02 L241.03 402.03 L241.82 402.04 L242.61 402.05 L243.41 402.06 L244.2 402.07 L244.99 402.08 L245.78 402.09 L246.57 402.1 L247.37 402.11 L248.16 402.12 L248.95 402.12 L249.74 402.13 L250.54 402.14 L251.33 402.15 L252.12 402.16 L252.91 402.17 L253.7 402.18 L254.5 402.19 L255.29 402.2 L256.08 402.21 L256.87 402.22 L257.67 402.23 L258.46 402.24 L259.25 402.25 L260.04 402.26 L260.83 402.27 L261.63 402.28 L262.42 402.28 L263.21 402.29 L264 402.3 L264.79 402.31 L265.59 402.32 L266.38 402.33 L267.17 402.34 L267.96 402.35 L268.76 402.36 L269.55 402.37 L270.34 402.38 L271.13 402.38 L271.92 402.39 L272.72 402.4 L273.51 402.41 L274.3 402.42 L275.09 402.43 L275.89 402.43 L276.68 402.44 L277.47 402.45 L278.26 402.46 L279.05 402.47 L279.85 402.47 L280.64 402.48 L281.43 402.49 L282.22 402.5 L283.01 402.5 L283.81 402.51 L284.6 402.52 L285.39 402.52 L286.18 402.53 L286.98 402.54 L287.77 402.54 L288.56 402.55" fill="none" stroke="#D9A312" stroke-width="1.9" stroke-linejoin="round" stroke-linecap="round"/>
<circle cx="51.7" cy="261.2" r="2.75" fill="#fff" stroke="#D9A312" stroke-width="1.3"/>
<circle cx="60.26" cy="282.2" r="2.75" fill="#fff" stroke="#D9A312" stroke-width="1.3"/>
<circle cx="69.92" cy="314.7" r="2.75" fill="#fff" stroke="#D9A312" stroke-width="1.3"/>
<circle cx="79.03" cy="350.3" r="2.75" fill="#fff" stroke="#D9A312" stroke-width="1.3"/>
<circle cx="88.14" cy="369.5" r="2.75" fill="#fff" stroke="#D9A312" stroke-width="1.3"/>
<circle cx="97.25" cy="381" r="2.75" fill="#fff" stroke="#D9A312" stroke-width="1.3"/>
<circle cx="106.36" cy="388" r="2.75" fill="#fff" stroke="#D9A312" stroke-width="1.3"/>
<circle cx="115.47" cy="391" r="2.75" fill="#fff" stroke="#D9A312" stroke-width="1.3"/>
<circle cx="124.58" cy="393.5" r="2.75" fill="#fff" stroke="#D9A312" stroke-width="1.3"/>
<circle cx="133.69" cy="394.2" r="2.75" fill="#fff" stroke="#D9A312" stroke-width="1.3"/>
<circle cx="142.8" cy="395" r="2.75" fill="#fff" stroke="#D9A312" stroke-width="1.3"/>
<circle cx="151.91" cy="394.5" r="2.75" fill="#fff" stroke="#D9A312" stroke-width="1.3"/>
<circle cx="161.02" cy="396.5" r="2.75" fill="#fff" stroke="#D9A312" stroke-width="1.3"/>
<circle cx="170.13" cy="397" r="2.75" fill="#fff" stroke="#D9A312" stroke-width="1.3"/>
<circle cx="179.24" cy="397.5" r="2.75" fill="#fff" stroke="#D9A312" stroke-width="1.3"/>
<circle cx="188.35" cy="398" r="2.75" fill="#fff" stroke="#D9A312" stroke-width="1.3"/>
<circle cx="197.46" cy="399" r="2.75" fill="#fff" stroke="#D9A312" stroke-width="1.3"/>
<circle cx="206.57" cy="399.5" r="2.75" fill="#fff" stroke="#D9A312" stroke-width="1.3"/>
<circle cx="215.68" cy="400" r="2.75" fill="#fff" stroke="#D9A312" stroke-width="1.3"/>
<circle cx="224.79" cy="399.5" r="2.75" fill="#fff" stroke="#D9A312" stroke-width="1.3"/>
<circle cx="233.9" cy="401" r="2.75" fill="#fff" stroke="#D9A312" stroke-width="1.3"/>
<circle cx="243.01" cy="401.5" r="2.75" fill="#fff" stroke="#D9A312" stroke-width="1.3"/>
<circle cx="252.12" cy="401.5" r="2.75" fill="#fff" stroke="#D9A312" stroke-width="1.3"/>
<circle cx="261.23" cy="401.5" r="2.75" fill="#fff" stroke="#D9A312" stroke-width="1.3"/>
<circle cx="270.34" cy="401" r="2.75" fill="#fff" stroke="#D9A312" stroke-width="1.3"/>
<circle cx="279.45" cy="401.3" r="2.75" fill="#fff" stroke="#D9A312" stroke-width="1.3"/>
<circle cx="288.56" cy="404.1" r="2.75" fill="#fff" stroke="#D9A312" stroke-width="1.3"/>
<path d="M51.7 271.51 L52.46 273.98 L53.22 276.61 L53.99 279.43 L54.75 282.46 L55.51 285.67 L56.27 289.02 L57.03 292.45 L57.79 295.98 L58.56 299.56 L59.32 303.05 L60.08 306.27 L60.84 309.18 L61.6 311.83 L62.36 314.33 L63.13 316.79 L63.89 319.29 L64.65 321.91 L65.41 324.63 L66.17 327.42 L66.93 330.2 L67.7 332.88 L68.46 335.39 L69.22 337.7 L69.98 339.8 L70.74 341.73 L71.5 343.54 L72.27 345.27 L73.03 346.97 L73.79 348.68 L74.55 350.41 L75.31 352.15 L76.07 353.87 L76.84 355.55 L77.6 357.13 L78.36 358.61 L79.12 359.97 L79.88 361.22 L80.64 362.36 L81.41 363.41 L82.17 364.39 L82.93 365.32 L83.69 366.2 L84.45 367.05 L85.22 367.87 L85.98 368.68 L86.74 369.49 L87.5 370.28 L88.26 371.06 L89.02 371.84 L89.79 372.61 L90.55 373.37 L91.31 374.12 L92.07 374.85 L92.83 375.57 L93.59 376.27 L94.36 376.95 L95.12 377.61 L95.88 378.25 L96.64 378.88 L97.4 379.49 L98.16 380.08 L98.93 380.65 L99.69 381.21 L100.45 381.75 L101.21 382.28 L101.97 382.8 L102.73 383.3 L103.5 383.8 L104.26 384.28 L105.02 384.75 L105.78 385.22 L106.54 385.67 L107.3 386.12 L108.07 386.56 L108.83 386.99 L109.59 387.42 L110.35 387.84 L111.11 388.25 L111.87 388.66 L112.64 389.06 L113.4 389.46 L114.16 389.85 L114.92 390.23 L115.68 390.6 L116.44 390.97 L117.21 391.33 L117.97 391.68 L118.73 392.02 L119.49 392.35 L120.25 392.67 L121.02 392.99 L121.78 393.29 L122.54 393.58 L123.3 393.86 L124.06 394.13 L124.82 394.39 L125.59 394.64 L126.35 394.89 L127.11 395.12 L127.87 395.34 L128.63 395.56 L129.39 395.76 L130.16 395.96 L130.92 396.16 L131.68 396.34 L132.44 396.52 L133.2 396.7 L133.96 396.87 L134.73 397.04 L135.49 397.2 L136.25 397.36 L137.01 397.51 L137.77 397.67 L138.53 397.82 L139.3 397.96 L140.06 398.11 L140.82 398.25 L141.58 398.39 L142.34 398.53 L143.1 398.66 L143.87 398.8 L144.63 398.93 L145.39 399.06 L146.15 399.19 L146.91 399.31 L147.67 399.44 L148.44 399.56 L149.2 399.68 L149.96 399.79 L150.72 399.91 L151.48 400.02 L152.25 400.13 L153.01 400.24 L153.77 400.34 L154.53 400.44 L155.29 400.54 L156.05 400.64 L156.82 400.73 L157.58 400.82 L158.34 400.9 L159.1 400.99 L159.86 401.07 L160.62 401.15 L161.39 401.22 L162.15 401.29 L162.91 401.37 L163.67 401.43 L164.43 401.5 L165.19 401.56 L165.96 401.63 L166.72 401.69 L167.48 401.75 L168.24 401.8 L169 401.86 L169.76 401.91 L170.53 401.97 L171.29 402.02 L172.05 402.07 L172.81 402.12 L173.57 402.17 L174.33 402.22 L175.1 402.26 L175.86 402.31 L176.62 402.35 L177.38 402.4 L178.14 402.44 L178.9 402.49 L179.67 402.53 L180.43 402.57 L181.19 402.61 L181.95 402.65 L182.71 402.69 L183.48 402.72 L184.24 402.76 L185 402.8 L185.76 402.83 L186.52 402.87 L187.28 402.9 L188.05 402.93 L188.81 402.97 L189.57 403 L190.33 403.03 L191.09 403.06 L191.85 403.09 L192.62 403.11 L193.38 403.14 L194.14 403.17 L194.9 403.19 L195.66 403.22 L196.42 403.24 L197.19 403.26 L197.95 403.29 L198.71 403.31 L199.47 403.33 L200.23 403.35 L200.99 403.37 L201.76 403.39 L202.52 403.41 L203.28 403.43 L204.04 403.45 L204.8 403.47 L205.56 403.48 L206.33 403.5 L207.09 403.52 L207.85 403.53 L208.61 403.55 L209.37 403.57 L210.13 403.58 L210.9 403.59 L211.66 403.61 L212.42 403.62 L213.18 403.64 L213.94 403.65 L214.71 403.66 L215.47 403.68 L216.23 403.69 L216.99 403.7 L217.75 403.71 L218.51 403.73 L219.28 403.74 L220.04 403.75 L220.8 403.76 L221.56 403.77 L222.32 403.78 L223.08 403.79 L223.85 403.8 L224.61 403.81 L225.37 403.82 L226.13 403.83 L226.89 403.84 L227.65 403.85 L228.42 403.86 L229.18 403.87 L229.94 403.88 L230.7 403.89 L231.46 403.9 L232.22 403.91 L232.99 403.92 L233.75 403.93 L234.51 403.94 L235.27 403.95 L236.03 403.95 L236.79 403.96 L237.56 403.97 L238.32 403.98 L239.08 403.99 L239.84 404 L240.6 404 L241.36 404.01 L242.13 404.02 L242.89 404.03 L243.65 404.04 L244.41 404.04 L245.17 404.05 L245.93 404.06 L246.7 404.06 L247.46 404.07 L248.22 404.08 L248.98 404.09 L249.74 404.09 L250.51 404.1 L251.27 404.11 L252.03 404.11 L252.79 404.12 L253.55 404.13 L254.31 404.13 L255.08 404.14 L255.84 404.14 L256.6 404.15 L257.36 404.16 L258.12 404.16 L258.88 404.17 L259.65 404.17 L260.41 404.18 L261.17 404.18 L261.93 404.19 L262.69 404.19 L263.45 404.2 L264.22 404.2 L264.98 404.21 L265.74 404.21 L266.5 404.21 L267.26 404.22 L268.02 404.22 L268.79 404.23 L269.55 404.23 L270.31 404.23 L271.07 404.24 L271.83 404.24 L272.59 404.24 L273.36 404.25 L274.12 404.25 L274.88 404.25 L275.64 404.26 L276.4 404.26 L277.16 404.26 L277.93 404.26 L278.69 404.27 L279.45 404.27" fill="none" stroke="#B40000" stroke-width="1.9" stroke-linejoin="round" stroke-linecap="round"/>
<circle cx="51.7" cy="269.8" r="2.75" fill="#fff" stroke="#B40000" stroke-width="1.3"/>
<circle cx="60.26" cy="307.3" r="2.75" fill="#fff" stroke="#B40000" stroke-width="1.3"/>
<circle cx="69.37" cy="338.7" r="2.75" fill="#fff" stroke="#B40000" stroke-width="1.3"/>
<circle cx="78.85" cy="360.2" r="2.75" fill="#fff" stroke="#B40000" stroke-width="1.3"/>
<circle cx="87.78" cy="374" r="2.75" fill="#fff" stroke="#B40000" stroke-width="1.3"/>
<circle cx="96.89" cy="382.3" r="2.75" fill="#fff" stroke="#B40000" stroke-width="1.3"/>
<circle cx="106.18" cy="386.8" r="2.75" fill="#fff" stroke="#B40000" stroke-width="1.3"/>
<circle cx="115.47" cy="390.6" r="2.75" fill="#fff" stroke="#B40000" stroke-width="1.3"/>
<circle cx="124.58" cy="392.5" r="2.75" fill="#fff" stroke="#B40000" stroke-width="1.3"/>
<circle cx="133.69" cy="393.6" r="2.75" fill="#fff" stroke="#B40000" stroke-width="1.3"/>
<circle cx="142.8" cy="394.7" r="2.75" fill="#fff" stroke="#B40000" stroke-width="1.3"/>
<circle cx="151.91" cy="396.2" r="2.75" fill="#fff" stroke="#B40000" stroke-width="1.3"/>
<circle cx="161.02" cy="396.3" r="2.75" fill="#fff" stroke="#B40000" stroke-width="1.3"/>
<circle cx="170.13" cy="398.1" r="2.75" fill="#fff" stroke="#B40000" stroke-width="1.3"/>
<circle cx="179.24" cy="398.1" r="2.75" fill="#fff" stroke="#B40000" stroke-width="1.3"/>
<circle cx="188.35" cy="398.8" r="2.75" fill="#fff" stroke="#B40000" stroke-width="1.3"/>
<circle cx="197.46" cy="400.1" r="2.75" fill="#fff" stroke="#B40000" stroke-width="1.3"/>
<circle cx="206.57" cy="400.8" r="2.75" fill="#fff" stroke="#B40000" stroke-width="1.3"/>
<circle cx="215.68" cy="400.8" r="2.75" fill="#fff" stroke="#B40000" stroke-width="1.3"/>
<circle cx="224.79" cy="401.5" r="2.75" fill="#fff" stroke="#B40000" stroke-width="1.3"/>
<circle cx="233.9" cy="402.5" r="2.75" fill="#fff" stroke="#B40000" stroke-width="1.3"/>
<circle cx="243.01" cy="402.5" r="2.75" fill="#fff" stroke="#B40000" stroke-width="1.3"/>
<circle cx="252.12" cy="402.5" r="2.75" fill="#fff" stroke="#B40000" stroke-width="1.3"/>
<circle cx="261.23" cy="402.5" r="2.75" fill="#fff" stroke="#B40000" stroke-width="1.3"/>
<circle cx="270.34" cy="403.3" r="2.75" fill="#fff" stroke="#B40000" stroke-width="1.3"/>
<circle cx="279.45" cy="404.1" r="2.75" fill="#fff" stroke="#B40000" stroke-width="1.3"/>
</g>
<g clip-path="url(#clipD)">
<path d="M385 257 L385.64 261.43 L386.28 265.82 L386.92 270.16 L387.56 274.42 L388.2 278.62 L388.84 282.75 L389.48 286.87 L390.12 291.03 L390.76 295.24 L391.4 299.45 L392.04 303.6 L392.68 307.64 L393.32 311.49 L393.96 315.11 L394.6 318.42 L395.24 321.41 L395.88 324.06 L396.52 326.41 L397.16 328.5 L397.8 330.42 L398.44 332.21 L399.08 333.94 L399.72 335.65 L400.36 337.38 L401 339.12 L401.64 340.88 L402.28 342.65 L402.92 344.39 L403.56 346.1 L404.19 347.75 L404.83 349.36 L405.47 350.9 L406.11 352.38 L406.75 353.81 L407.39 355.18 L408.03 356.49 L408.67 357.72 L409.31 358.9 L409.95 360.03 L410.59 361.12 L411.23 362.18 L411.87 363.23 L412.51 364.27 L413.15 365.29 L413.79 366.31 L414.43 367.3 L415.07 368.27 L415.71 369.21 L416.35 370.12 L416.99 371 L417.63 371.85 L418.27 372.68 L418.91 373.48 L419.55 374.27 L420.19 375.04 L420.83 375.8 L421.47 376.55 L422.11 377.27 L422.75 377.98 L423.39 378.67 L424.03 379.34 L424.67 379.98 L425.31 380.6 L425.95 381.19 L426.59 381.76 L427.23 382.3 L427.87 382.81 L428.51 383.31 L429.15 383.78 L429.79 384.24 L430.43 384.67 L431.07 385.09 L431.71 385.5 L432.35 385.88 L432.99 386.26 L433.63 386.63 L434.27 386.98 L434.91 387.33 L435.55 387.66 L436.19 387.99 L436.83 388.31 L437.47 388.62 L438.11 388.93 L438.75 389.23 L439.39 389.52 L440.03 389.8 L440.67 390.08 L441.31 390.35 L441.95 390.62 L442.58 390.87 L443.22 391.13 L443.86 391.37 L444.5 391.62 L445.14 391.85 L445.78 392.08 L446.42 392.31 L447.06 392.53 L447.7 392.75 L448.34 392.96 L448.98 393.17 L449.62 393.38 L450.26 393.58 L450.9 393.78 L451.54 393.98 L452.18 394.17 L452.82 394.36 L453.46 394.55 L454.1 394.74 L454.74 394.93 L455.38 395.12 L456.02 395.3 L456.66 395.48 L457.3 395.66 L457.94 395.84 L458.58 396.02 L459.22 396.2 L459.86 396.37 L460.5 396.54 L461.14 396.71 L461.78 396.88 L462.42 397.05 L463.06 397.22 L463.7 397.38 L464.34 397.54 L464.98 397.7 L465.62 397.86 L466.26 398.01 L466.9 398.16 L467.54 398.31 L468.18 398.45 L468.82 398.59 L469.46 398.73 L470.1 398.87 L470.74 399 L471.38 399.13 L472.02 399.25 L472.66 399.37 L473.3 399.49 L473.94 399.6 L474.58 399.71 L475.22 399.82 L475.86 399.93 L476.5 400.03 L477.14 400.12 L477.78 400.22 L478.42 400.31 L479.06 400.39 L479.7 400.48 L480.34 400.56 L480.97 400.64 L481.61 400.72 L482.25 400.79 L482.89 400.86 L483.53 400.93 L484.17 401 L484.81 401.06 L485.45 401.13 L486.09 401.19 L486.73 401.25 L487.37 401.3 L488.01 401.36 L488.65 401.42 L489.29 401.47 L489.93 401.52 L490.57 401.57 L491.21 401.62 L491.85 401.67 L492.49 401.71 L493.13 401.76 L493.77 401.8 L494.41 401.85 L495.05 401.89 L495.69 401.93 L496.33 401.97 L496.97 402.01 L497.61 402.05 L498.25 402.08 L498.89 402.12 L499.53 402.16 L500.17 402.19 L500.81 402.23 L501.45 402.26 L502.09 402.29 L502.73 402.32 L503.37 402.36 L504.01 402.39 L504.65 402.42 L505.29 402.45 L505.93 402.48 L506.57 402.5 L507.21 402.53 L507.85 402.56 L508.49 402.59 L509.13 402.61 L509.77 402.64 L510.41 402.66 L511.05 402.69 L511.69 402.71 L512.33 402.74 L512.97 402.76 L513.61 402.78 L514.25 402.8 L514.89 402.83 L515.53 402.85 L516.17 402.87 L516.81 402.89 L517.45 402.91 L518.09 402.93 L518.73 402.95 L519.36 402.97 L520 402.99 L520.64 403.01 L521.28 403.03 L521.92 403.05 L522.56 403.07 L523.2 403.08 L523.84 403.1 L524.48 403.12 L525.12 403.14 L525.76 403.15 L526.4 403.17 L527.04 403.18 L527.68 403.2 L528.32 403.22 L528.96 403.23 L529.6 403.25 L530.24 403.26 L530.88 403.28 L531.52 403.29 L532.16 403.31 L532.8 403.32 L533.44 403.34 L534.08 403.35 L534.72 403.37 L535.36 403.38 L536 403.39 L536.64 403.41 L537.28 403.42 L537.92 403.43 L538.56 403.45 L539.2 403.46 L539.84 403.47 L540.48 403.49 L541.12 403.5 L541.76 403.51 L542.4 403.52 L543.04 403.53 L543.68 403.55 L544.32 403.56 L544.96 403.57 L545.6 403.58 L546.24 403.59 L546.88 403.61 L547.52 403.62 L548.16 403.63 L548.8 403.64 L549.44 403.65 L550.08 403.66 L550.72 403.67 L551.36 403.68 L552 403.69 L552.64 403.7 L553.28 403.71 L553.92 403.72 L554.56 403.73 L555.2 403.74 L555.84 403.75 L556.48 403.76 L557.12 403.77 L557.75 403.78 L558.39 403.79 L559.03 403.79 L559.67 403.8 L560.31 403.81 L560.95 403.82 L561.59 403.83 L562.23 403.83 L562.87 403.84 L563.51 403.85 L564.15 403.86 L564.79 403.86 L565.43 403.87 L566.07 403.88 L566.71 403.88 L567.35 403.89 L567.99 403.9 L568.63 403.9 L569.27 403.91 L569.91 403.91 L570.55 403.92 L571.19 403.92 L571.83 403.93 L572.47 403.93 L573.11 403.94 L573.75 403.94 L574.39 403.95 L575.03 403.95 L575.67 403.95 L576.31 403.96" fill="none" stroke="#5E9C9E" stroke-width="1.9" stroke-linejoin="round" stroke-linecap="round"/>
<circle cx="385" cy="257" r="3.4" fill="#5E9C9E"/>
<circle cx="394.84" cy="311.4" r="3.4" fill="#5E9C9E"/>
<circle cx="404.68" cy="354.6" r="3.4" fill="#5E9C9E"/>
<circle cx="412.33" cy="369.8" r="3.4" fill="#5E9C9E"/>
<circle cx="420.89" cy="382.7" r="3.4" fill="#5E9C9E"/>
<circle cx="430.19" cy="385.8" r="3.4" fill="#5E9C9E"/>
<circle cx="439.11" cy="387.2" r="3.4" fill="#5E9C9E"/>
<circle cx="448.59" cy="389.1" r="3.4" fill="#5E9C9E"/>
<circle cx="457.52" cy="390.8" r="3.4" fill="#5E9C9E"/>
<circle cx="466.81" cy="392.6" r="3.4" fill="#5E9C9E"/>
<circle cx="475.92" cy="394.4" r="3.4" fill="#5E9C9E"/>
<circle cx="485.21" cy="396.3" r="3.4" fill="#5E9C9E"/>
<circle cx="494.32" cy="398" r="3.4" fill="#5E9C9E"/>
<circle cx="503.43" cy="398" r="3.4" fill="#5E9C9E"/>
<circle cx="512.54" cy="400" r="3.4" fill="#5E9C9E"/>
<circle cx="521.65" cy="400.3" r="3.4" fill="#5E9C9E"/>
<circle cx="530.76" cy="402" r="3.4" fill="#5E9C9E"/>
<circle cx="539.87" cy="402" r="3.4" fill="#5E9C9E"/>
<circle cx="548.98" cy="402" r="3.4" fill="#5E9C9E"/>
<circle cx="558.09" cy="402" r="3.4" fill="#5E9C9E"/>
<circle cx="567.2" cy="402" r="3.4" fill="#5E9C9E"/>
<circle cx="576.31" cy="404" r="3.4" fill="#5E9C9E"/>
<path d="M385 256.99 L385.64 261.68 L386.28 266.29 L386.92 270.82 L387.56 275.26 L388.2 279.62 L388.84 283.91 L389.48 288.12 L390.12 292.27 L390.76 296.34 L391.4 300.35 L392.04 304.29 L392.68 308.18 L393.32 312.01 L393.96 315.78 L394.6 319.5 L395.24 323.14 L395.88 326.68 L396.52 330.04 L397.16 333.17 L397.8 336.06 L398.44 338.74 L399.08 341.32 L399.72 343.91 L400.36 346.54 L401 349.18 L401.64 351.75 L402.28 354.19 L402.92 356.46 L403.56 358.59 L404.19 360.6 L404.83 362.5 L405.47 364.27 L406.11 365.91 L406.75 367.42 L407.39 368.81 L408.03 370.08 L408.67 371.27 L409.31 372.38 L409.95 373.42 L410.59 374.4 L411.23 375.33 L411.87 376.21 L412.51 377.04 L413.15 377.82 L413.79 378.55 L414.43 379.24 L415.07 379.88 L415.71 380.49 L416.35 381.07 L416.99 381.63 L417.63 382.19 L418.27 382.74 L418.91 383.3 L419.55 383.86 L420.19 384.44 L420.83 385.03 L421.47 385.64 L422.11 386.25 L422.75 386.87 L423.39 387.48 L424.03 388.09 L424.67 388.69 L425.31 389.27 L425.95 389.82 L426.59 390.36 L427.23 390.87 L427.87 391.36 L428.51 391.83 L429.15 392.27 L429.79 392.69 L430.43 393.09 L431.07 393.47 L431.71 393.83 L432.35 394.18 L432.99 394.52 L433.63 394.84 L434.27 395.15 L434.91 395.44 L435.55 395.73 L436.19 396.01 L436.83 396.28 L437.47 396.54 L438.11 396.8 L438.75 397.04 L439.39 397.28 L440.03 397.52 L440.67 397.75 L441.31 397.97 L441.95 398.19 L442.58 398.4 L443.22 398.61 L443.86 398.81 L444.5 399.01 L445.14 399.2 L445.78 399.38 L446.42 399.56 L447.06 399.73 L447.7 399.9 L448.34 400.06 L448.98 400.22 L449.62 400.36 L450.26 400.51 L450.9 400.64 L451.54 400.77 L452.18 400.9 L452.82 401.02 L453.46 401.13 L454.1 401.24 L454.74 401.34 L455.38 401.44 L456.02 401.53 L456.66 401.62 L457.3 401.71 L457.94 401.79 L458.58 401.87 L459.22 401.95 L459.86 402.02 L460.5 402.09 L461.14 402.16 L461.78 402.22 L462.42 402.29 L463.06 402.35 L463.7 402.41 L464.34 402.47 L464.98 402.52 L465.62 402.58 L466.26 402.63 L466.9 402.68 L467.54 402.73 L468.18 402.78 L468.82 402.83 L469.46 402.87 L470.1 402.92 L470.74 402.96 L471.38 403 L472.02 403.04 L472.66 403.08 L473.3 403.12 L473.94 403.16 L474.58 403.19 L475.22 403.23 L475.86 403.26 L476.5 403.29 L477.14 403.33 L477.78 403.36 L478.42 403.39 L479.06 403.42 L479.7 403.45 L480.34 403.48 L480.97 403.51 L481.61 403.53 L482.25 403.56 L482.89 403.59 L483.53 403.61 L484.17 403.64 L484.81 403.66 L485.45 403.69 L486.09 403.71 L486.73 403.74 L487.37 403.76 L488.01 403.78 L488.65 403.81 L489.29 403.83 L489.93 403.85 L490.57 403.87 L491.21 403.89 L491.85 403.91 L492.49 403.93 L493.13 403.95 L493.77 403.97 L494.41 403.99 L495.05 404.01 L495.69 404.03 L496.33 404.05 L496.97 404.07 L497.61 404.09 L498.25 404.11 L498.89 404.13 L499.53 404.14 L500.17 404.16 L500.81 404.18 L501.45 404.19 L502.09 404.21 L502.73 404.23 L503.37 404.24 L504.01 404.26 L504.65 404.28 L505.29 404.29 L505.93 404.31 L506.57 404.32 L507.21 404.34 L507.85 404.35 L508.49 404.37 L509.13 404.38 L509.77 404.4 L510.41 404.41 L511.05 404.43 L511.69 404.44 L512.33 404.45 L512.97 404.47 L513.61 404.48 L514.25 404.49 L514.89 404.51 L515.53 404.52 L516.17 404.53 L516.81 404.54 L517.45 404.56 L518.09 404.57 L518.73 404.58 L519.36 404.59 L520 404.61 L520.64 404.62 L521.28 404.63 L521.92 404.64 L522.56 404.65 L523.2 404.66 L523.84 404.67 L524.48 404.69 L525.12 404.7 L525.76 404.71 L526.4 404.72 L527.04 404.73 L527.68 404.74 L528.32 404.75 L528.96 404.76 L529.6 404.77 L530.24 404.78 L530.88 404.79 L531.52 404.8 L532.16 404.81 L532.8 404.82 L533.44 404.83 L534.08 404.84 L534.72 404.85 L535.36 404.86 L536 404.87 L536.64 404.88 L537.28 404.89 L537.92 404.9 L538.56 404.91 L539.2 404.92 L539.84 404.92 L540.48 404.93 L541.12 404.94 L541.76 404.95 L542.4 404.96 L543.04 404.97 L543.68 404.98 L544.32 404.98 L544.96 404.99 L545.6 405 L546.24 405.01 L546.88 405.02 L547.52 405.03 L548.16 405.03 L548.8 405.04 L549.44 405.05 L550.08 405.06 L550.72 405.06 L551.36 405.07 L552 405.08 L552.64 405.09 L553.28 405.09 L553.92 405.1 L554.56 405.11 L555.2 405.11 L555.84 405.12 L556.48 405.13 L557.12 405.13 L557.75 405.14 L558.39 405.15 L559.03 405.15 L559.67 405.16 L560.31 405.16 L560.95 405.17 L561.59 405.17 L562.23 405.18 L562.87 405.19 L563.51 405.19 L564.15 405.2 L564.79 405.2 L565.43 405.21 L566.07 405.21 L566.71 405.22 L567.35 405.22 L567.99 405.22 L568.63 405.23 L569.27 405.23 L569.91 405.24 L570.55 405.24 L571.19 405.24 L571.83 405.25 L572.47 405.25 L573.11 405.26 L573.75 405.26 L574.39 405.26 L575.03 405.26 L575.67 405.27 L576.31 405.27" fill="none" stroke="#D9A312" stroke-width="1.9" stroke-linejoin="round" stroke-linecap="round"/>
<circle cx="385" cy="261.2" r="3.4" fill="#D9A312"/>
<circle cx="393.75" cy="321.7" r="3.4" fill="#D9A312"/>
<circle cx="402.13" cy="367.8" r="3.4" fill="#D9A312"/>
<circle cx="411.42" cy="379.3" r="3.4" fill="#D9A312"/>
<circle cx="421.44" cy="386" r="3.4" fill="#D9A312"/>
<circle cx="430.55" cy="389.5" r="3.4" fill="#D9A312"/>
<circle cx="439.66" cy="393.8" r="3.4" fill="#D9A312"/>
<circle cx="448.77" cy="395" r="3.4" fill="#D9A312"/>
<circle cx="457.88" cy="395.5" r="3.4" fill="#D9A312"/>
<circle cx="466.99" cy="396.8" r="3.4" fill="#D9A312"/>
<circle cx="476.1" cy="397" r="3.4" fill="#D9A312"/>
<circle cx="485.21" cy="397.5" r="3.4" fill="#D9A312"/>
<circle cx="494.32" cy="398.8" r="3.4" fill="#D9A312"/>
<circle cx="503.43" cy="398.8" r="3.4" fill="#D9A312"/>
<circle cx="512.54" cy="399.5" r="3.4" fill="#D9A312"/>
<circle cx="521.65" cy="399.8" r="3.4" fill="#D9A312"/>
<circle cx="530.76" cy="400.2" r="3.4" fill="#D9A312"/>
<circle cx="539.87" cy="402" r="3.4" fill="#D9A312"/>
<circle cx="548.98" cy="402" r="3.4" fill="#D9A312"/>
<circle cx="558.09" cy="402" r="3.4" fill="#D9A312"/>
<circle cx="567.2" cy="402" r="3.4" fill="#D9A312"/>
<circle cx="576.31" cy="404.2" r="3.4" fill="#D9A312"/>
<path d="M385 255.99 L385.64 262.96 L386.28 269.66 L386.92 275.97 L387.55 281.77 L388.19 287.1 L388.83 292.08 L389.47 296.83 L390.11 301.35 L390.75 305.64 L391.39 309.7 L392.02 313.52 L392.66 317.09 L393.3 320.38 L393.94 323.39 L394.58 326.18 L395.22 328.81 L395.86 331.38 L396.5 333.94 L397.13 336.59 L397.77 339.44 L398.41 342.53 L399.05 345.8 L399.69 349.04 L400.33 352.05 L400.97 354.75 L401.6 357.15 L402.24 359.36 L402.88 361.44 L403.52 363.41 L404.16 365.27 L404.8 366.99 L405.44 368.58 L406.07 370.04 L406.71 371.4 L407.35 372.68 L407.99 373.88 L408.63 375.02 L409.27 376.11 L409.91 377.13 L410.54 378.08 L411.18 378.96 L411.82 379.77 L412.46 380.5 L413.1 381.18 L413.74 381.82 L414.38 382.41 L415.01 382.98 L415.65 383.54 L416.29 384.08 L416.93 384.63 L417.57 385.16 L418.21 385.69 L418.85 386.22 L419.49 386.73 L420.12 387.22 L420.76 387.71 L421.4 388.18 L422.04 388.63 L422.68 389.06 L423.32 389.48 L423.96 389.89 L424.59 390.28 L425.23 390.65 L425.87 391.02 L426.51 391.37 L427.15 391.72 L427.79 392.05 L428.43 392.38 L429.06 392.7 L429.7 393.01 L430.34 393.32 L430.98 393.62 L431.62 393.91 L432.26 394.2 L432.9 394.49 L433.53 394.76 L434.17 395.04 L434.81 395.3 L435.45 395.57 L436.09 395.82 L436.73 396.07 L437.37 396.32 L438 396.55 L438.64 396.79 L439.28 397.01 L439.92 397.23 L440.56 397.44 L441.2 397.65 L441.84 397.85 L442.48 398.05 L443.11 398.24 L443.75 398.42 L444.39 398.6 L445.03 398.78 L445.67 398.95 L446.31 399.11 L446.95 399.27 L447.58 399.43 L448.22 399.58 L448.86 399.73 L449.5 399.87 L450.14 400 L450.78 400.14 L451.42 400.27 L452.05 400.39 L452.69 400.51 L453.33 400.62 L453.97 400.73 L454.61 400.84 L455.25 400.94 L455.89 401.04 L456.52 401.13 L457.16 401.22 L457.8 401.31 L458.44 401.39 L459.08 401.47 L459.72 401.55 L460.36 401.62 L461 401.69 L461.63 401.75 L462.27 401.82 L462.91 401.88 L463.55 401.93 L464.19 401.99 L464.83 402.04 L465.47 402.09 L466.1 402.14 L466.74 402.19 L467.38 402.23 L468.02 402.28 L468.66 402.32 L469.3 402.36 L469.94 402.4 L470.57 402.43 L471.21 402.47 L471.85 402.5 L472.49 402.54 L473.13 402.57 L473.77 402.6 L474.41 402.63 L475.04 402.66 L475.68 402.69 L476.32 402.72 L476.96 402.75 L477.6 402.78 L478.24 402.8 L478.88 402.83 L479.51 402.85 L480.15 402.88 L480.79 402.9 L481.43 402.92 L482.07 402.95 L482.71 402.97 L483.35 402.99 L483.99 403.01 L484.62 403.04 L485.26 403.06 L485.9 403.08 L486.54 403.1 L487.18 403.12 L487.82 403.14 L488.46 403.16 L489.09 403.17 L489.73 403.19 L490.37 403.21 L491.01 403.23 L491.65 403.25 L492.29 403.26 L492.93 403.28 L493.56 403.3 L494.2 403.32 L494.84 403.33 L495.48 403.35 L496.12 403.37 L496.76 403.38 L497.4 403.4 L498.03 403.42 L498.67 403.43 L499.31 403.45 L499.95 403.46 L500.59 403.48 L501.23 403.49 L501.87 403.51 L502.5 403.53 L503.14 403.54 L503.78 403.56 L504.42 403.57 L505.06 403.59 L505.7 403.6 L506.34 403.62 L506.98 403.63 L507.61 403.64 L508.25 403.66 L508.89 403.67 L509.53 403.69 L510.17 403.7 L510.81 403.72 L511.45 403.73 L512.08 403.74 L512.72 403.76 L513.36 403.77 L514 403.78 L514.64 403.8 L515.28 403.81 L515.92 403.82 L516.55 403.84 L517.19 403.85 L517.83 403.86 L518.47 403.88 L519.11 403.89 L519.75 403.9 L520.39 403.91 L521.02 403.93 L521.66 403.94 L522.3 403.95 L522.94 403.96 L523.58 403.97 L524.22 403.98 L524.86 404 L525.5 404.01 L526.13 404.02 L526.77 404.03 L527.41 404.04 L528.05 404.05 L528.69 404.06 L529.33 404.07 L529.97 404.08 L530.6 404.09 L531.24 404.1 L531.88 404.11 L532.52 404.12 L533.16 404.13 L533.8 404.14 L534.44 404.15 L535.07 404.16 L535.71 404.17 L536.35 404.18 L536.99 404.19 L537.63 404.2 L538.27 404.21 L538.91 404.22 L539.54 404.22 L540.18 404.23 L540.82 404.24 L541.46 404.25 L542.1 404.26 L542.74 404.27 L543.38 404.28 L544.01 404.28 L544.65 404.29 L545.29 404.3 L545.93 404.31 L546.57 404.32 L547.21 404.32 L547.85 404.33 L548.49 404.34 L549.12 404.35 L549.76 404.35 L550.4 404.36 L551.04 404.37 L551.68 404.38 L552.32 404.38 L552.96 404.39 L553.59 404.4 L554.23 404.4 L554.87 404.41 L555.51 404.42 L556.15 404.42 L556.79 404.43 L557.43 404.44 L558.06 404.44 L558.7 404.45 L559.34 404.45 L559.98 404.46 L560.62 404.47 L561.26 404.47 L561.9 404.48 L562.53 404.48 L563.17 404.49 L563.81 404.49 L564.45 404.5 L565.09 404.5 L565.73 404.51 L566.37 404.51 L567.01 404.52 L567.64 404.52 L568.28 404.53 L568.92 404.53 L569.56 404.53 L570.2 404.54 L570.84 404.54 L571.48 404.55 L572.11 404.55 L572.75 404.55 L573.39 404.56 L574.03 404.56 L574.67 404.56 L575.31 404.57 L575.95 404.57" fill="none" stroke="#B40000" stroke-width="1.9" stroke-linejoin="round" stroke-linecap="round"/>
<circle cx="385" cy="253.4" r="3.4" fill="#B40000"/>
<circle cx="393.75" cy="329.9" r="3.4" fill="#B40000"/>
<circle cx="402.49" cy="374.4" r="3.4" fill="#B40000"/>
<circle cx="411.97" cy="384.3" r="3.4" fill="#B40000"/>
<circle cx="421.26" cy="387.7" r="3.4" fill="#B40000"/>
<circle cx="430.19" cy="391.1" r="3.4" fill="#B40000"/>
<circle cx="439.3" cy="394.6" r="3.4" fill="#B40000"/>
<circle cx="448.41" cy="396.3" r="3.4" fill="#B40000"/>
<circle cx="457.52" cy="396.6" r="3.4" fill="#B40000"/>
<circle cx="466.81" cy="398.1" r="3.4" fill="#B40000"/>
<circle cx="475.92" cy="398.4" r="3.4" fill="#B40000"/>
<circle cx="484.48" cy="398.5" r="3.4" fill="#B40000"/>
<circle cx="493.96" cy="400" r="3.4" fill="#B40000"/>
<circle cx="503.07" cy="400" r="3.4" fill="#B40000"/>
<circle cx="512.18" cy="400.3" r="3.4" fill="#B40000"/>
<circle cx="521.29" cy="400.3" r="3.4" fill="#B40000"/>
<circle cx="530.21" cy="402" r="3.4" fill="#B40000"/>
<circle cx="539.51" cy="402" r="3.4" fill="#B40000"/>
<circle cx="548.62" cy="402" r="3.4" fill="#B40000"/>
<circle cx="557.73" cy="402" r="3.4" fill="#B40000"/>
<circle cx="566.84" cy="402" r="3.4" fill="#B40000"/>
<circle cx="575.95" cy="404.2" r="3.4" fill="#B40000"/>
</g>
<path d="M51.7 7.5H343V204.5" fill="none" stroke="#444" stroke-width="1.05"/>
<path d="M51.7 7.5V204.5H343" fill="none" stroke="#222" stroke-width="1.3"/>
<path d="M46.7 204.5H51.7M46.7 165.1H51.7M46.7 125.7H51.7M46.7 86.3H51.7M46.7 46.9H51.7M46.7 7.5H51.7M51.7 204.5V209.5M88.14 204.5V209.5M124.58 204.5V209.5M161.02 204.5V209.5M197.46 204.5V209.5M233.9 204.5V209.5M270.34 204.5V209.5M306.78 204.5V209.5M343.22 204.5V209.5" stroke="#222" stroke-width="1.3" fill="none"/>
<text x="43.5" y="208.8" text-anchor="end" font-size="17.2">0</text>
<text x="43.5" y="169.4" text-anchor="end" font-size="17.2">10</text>
<text x="43.5" y="130" text-anchor="end" font-size="17.2">20</text>
<text x="43.5" y="90.6" text-anchor="end" font-size="17.2">30</text>
<text x="43.5" y="51.2" text-anchor="end" font-size="17.2">40</text>
<text x="43.5" y="11.8" text-anchor="end" font-size="17.2">50</text>
<path d="M385 7.5H676.3V204.5" fill="none" stroke="#444" stroke-width="1.05"/>
<path d="M385 7.5V204.5H676.3" fill="none" stroke="#222" stroke-width="1.3"/>
<path d="M380 204.5H385M380 165.1H385M380 125.7H385M380 86.3H385M380 46.9H385M380 7.5H385M385 204.5V209.5M421.44 204.5V209.5M457.88 204.5V209.5M494.32 204.5V209.5M530.76 204.5V209.5M567.2 204.5V209.5M603.64 204.5V209.5M640.08 204.5V209.5M676.52 204.5V209.5" stroke="#222" stroke-width="1.3" fill="none"/>
<path d="M51.7 232.7H343V430.4" fill="none" stroke="#444" stroke-width="1.05"/>
<path d="M51.7 232.7V430.4H343" fill="none" stroke="#222" stroke-width="1.3"/>
<path d="M46.7 430.4H51.7M46.7 390.86H51.7M46.7 351.32H51.7M46.7 311.78H51.7M46.7 272.24H51.7M46.7 232.7H51.7M51.7 430.4V435.4M88.14 430.4V435.4M124.58 430.4V435.4M161.02 430.4V435.4M197.46 430.4V435.4M233.9 430.4V435.4M270.34 430.4V435.4M306.78 430.4V435.4M343.22 430.4V435.4" stroke="#222" stroke-width="1.3" fill="none"/>
<text x="43.5" y="434.7" text-anchor="end" font-size="17.2">0</text>
<text x="43.5" y="395.16" text-anchor="end" font-size="17.2">10</text>
<text x="43.5" y="355.62" text-anchor="end" font-size="17.2">20</text>
<text x="43.5" y="316.08" text-anchor="end" font-size="17.2">30</text>
<text x="43.5" y="276.54" text-anchor="end" font-size="17.2">40</text>
<text x="43.5" y="237" text-anchor="end" font-size="17.2">50</text>
<text x="51.7" y="451" text-anchor="middle" font-size="17.2">0</text>
<text x="88.14" y="451" text-anchor="middle" font-size="17.2">2</text>
<text x="124.58" y="451" text-anchor="middle" font-size="17.2">4</text>
<text x="161.02" y="451" text-anchor="middle" font-size="17.2">6</text>
<text x="197.46" y="451" text-anchor="middle" font-size="17.2">8</text>
<text x="233.9" y="451" text-anchor="middle" font-size="17.2">10</text>
<text x="270.34" y="451" text-anchor="middle" font-size="17.2">12</text>
<text x="306.78" y="451" text-anchor="middle" font-size="17.2">14</text>
<text x="343.22" y="451" text-anchor="middle" font-size="17.2">16</text>
<path d="M385 232.7H676.3V430.4" fill="none" stroke="#444" stroke-width="1.05"/>
<path d="M385 232.7V430.4H676.3" fill="none" stroke="#222" stroke-width="1.3"/>
<path d="M380 430.4H385M380 390.86H385M380 351.32H385M380 311.78H385M380 272.24H385M380 232.7H385M385 430.4V435.4M421.44 430.4V435.4M457.88 430.4V435.4M494.32 430.4V435.4M530.76 430.4V435.4M567.2 430.4V435.4M603.64 430.4V435.4M640.08 430.4V435.4M676.52 430.4V435.4" stroke="#222" stroke-width="1.3" fill="none"/>
<text x="385" y="451" text-anchor="middle" font-size="17.2">0</text>
<text x="421.44" y="451" text-anchor="middle" font-size="17.2">2</text>
<text x="457.88" y="451" text-anchor="middle" font-size="17.2">4</text>
<text x="494.32" y="451" text-anchor="middle" font-size="17.2">6</text>
<text x="530.76" y="451" text-anchor="middle" font-size="17.2">8</text>
<text x="567.2" y="451" text-anchor="middle" font-size="17.2">10</text>
<text x="603.64" y="451" text-anchor="middle" font-size="17.2">12</text>
<text x="640.08" y="451" text-anchor="middle" font-size="17.2">14</text>
<text x="676.52" y="451" text-anchor="middle" font-size="17.2">16</text>
<text x="332.8" y="27.3" text-anchor="end" font-size="18.3">Over-flow</text>
<rect x="286.4" y="40.8" width="5.2" height="5.2" fill="#fff" stroke="#6A5CC4" stroke-width="1.1"/>
<text x="304.4" y="48" font-size="13.6">40°C</text>
<rect x="286.4" y="57.9" width="5.2" height="5.2" fill="#fff" stroke="#5B9BD5" stroke-width="1.1"/>
<text x="304.4" y="65.1" font-size="13.6">50°C</text>
<rect x="286.4" y="75" width="5.2" height="5.2" fill="#fff" stroke="#2EBE62" stroke-width="1.1"/>
<text x="304.4" y="82.2" font-size="13.6">60°C</text>
<rect x="286.4" y="92.1" width="5.2" height="5.2" fill="#fff" stroke="#FFC000" stroke-width="1.1"/>
<text x="304.4" y="99.3" font-size="13.6">70°C</text>
<rect x="286.4" y="109.2" width="5.2" height="5.2" fill="#fff" stroke="#EE0A14" stroke-width="1.1"/>
<text x="304.4" y="116.4" font-size="13.6">80°C</text>
<text x="667.2" y="27.3" text-anchor="end" font-size="16.3">Through-flow</text>
<rect x="621.2" y="40.7" width="5.4" height="5.4" fill="#6A5CC4"/>
<text x="639.2" y="48" font-size="13.6">40°C</text>
<rect x="621.2" y="57.8" width="5.4" height="5.4" fill="#5B9BD5"/>
<text x="639.2" y="65.1" font-size="13.6">50°C</text>
<rect x="621.2" y="74.9" width="5.4" height="5.4" fill="#2EBE62"/>
<text x="639.2" y="82.2" font-size="13.6">60°C</text>
<rect x="621.2" y="92" width="5.4" height="5.4" fill="#FFC000"/>
<text x="639.2" y="99.3" font-size="13.6">70°C</text>
<rect x="621.2" y="109.1" width="5.4" height="5.4" fill="#EE0A14"/>
<text x="639.2" y="116.4" font-size="13.6">80°C</text>
<text x="333" y="253.6" text-anchor="end" font-size="18.3">Over-flow</text>
<circle cx="271.2" cy="271.8" r="2.85" fill="#fff" stroke="#5E9C9E" stroke-width="1.3"/>
<text x="286.8" y="276.1" font-size="13.6">0.7 m s<tspan font-size="9" dy="-6">-1</tspan></text>
<circle cx="271.2" cy="290.9" r="2.85" fill="#fff" stroke="#D9A312" stroke-width="1.3"/>
<text x="286.8" y="295.2" font-size="13.6">1.0 m s<tspan font-size="9" dy="-6">-1</tspan></text>
<circle cx="271.2" cy="310" r="2.85" fill="#fff" stroke="#B40000" stroke-width="1.3"/>
<text x="286.8" y="314.3" font-size="13.6">1.3 m s<tspan font-size="9" dy="-6">-1</tspan></text>
<text x="667.6" y="253.6" text-anchor="end" font-size="16.3">Through-flow</text>
<circle cx="603.6" cy="271.8" r="3.65" fill="#5E9C9E"/>
<text x="619.2" y="276.1" font-size="13.6">0.2 m s<tspan font-size="9" dy="-6">-1</tspan></text>
<circle cx="603.6" cy="290.9" r="3.65" fill="#D9A312"/>
<text x="619.2" y="295.2" font-size="13.6">0.5 m s<tspan font-size="9" dy="-6">-1</tspan></text>
<circle cx="603.6" cy="310" r="3.65" fill="#B40000"/>
<text x="619.2" y="314.3" font-size="13.6">0.8 m s<tspan font-size="9" dy="-6">-1</tspan></text>
<text x="325.1" y="192.1" text-anchor="middle" font-size="18.3">A</text>
<text x="657.6" y="191.4" text-anchor="middle" font-size="18.0">B</text>
<text x="324.9" y="420.8" text-anchor="middle" font-size="18.6">C</text>
<text x="657.3" y="420.4" text-anchor="middle" font-size="17.8">D</text>
<text transform="translate(13.4 108.1) rotate(-90)" text-anchor="middle" font-size="17.05">Moisture content (% w.b.)</text>
<text transform="translate(13.4 336) rotate(-90)" text-anchor="middle" font-size="17.05">Moisture content (% w.b.)</text>
<text x="197.1" y="480.9" text-anchor="middle" font-size="16.6">Drying time (h)</text>
<text x="530.6" y="480.9" text-anchor="middle" font-size="16.6">Drying time (h)</text>
</svg>
</body></html>
